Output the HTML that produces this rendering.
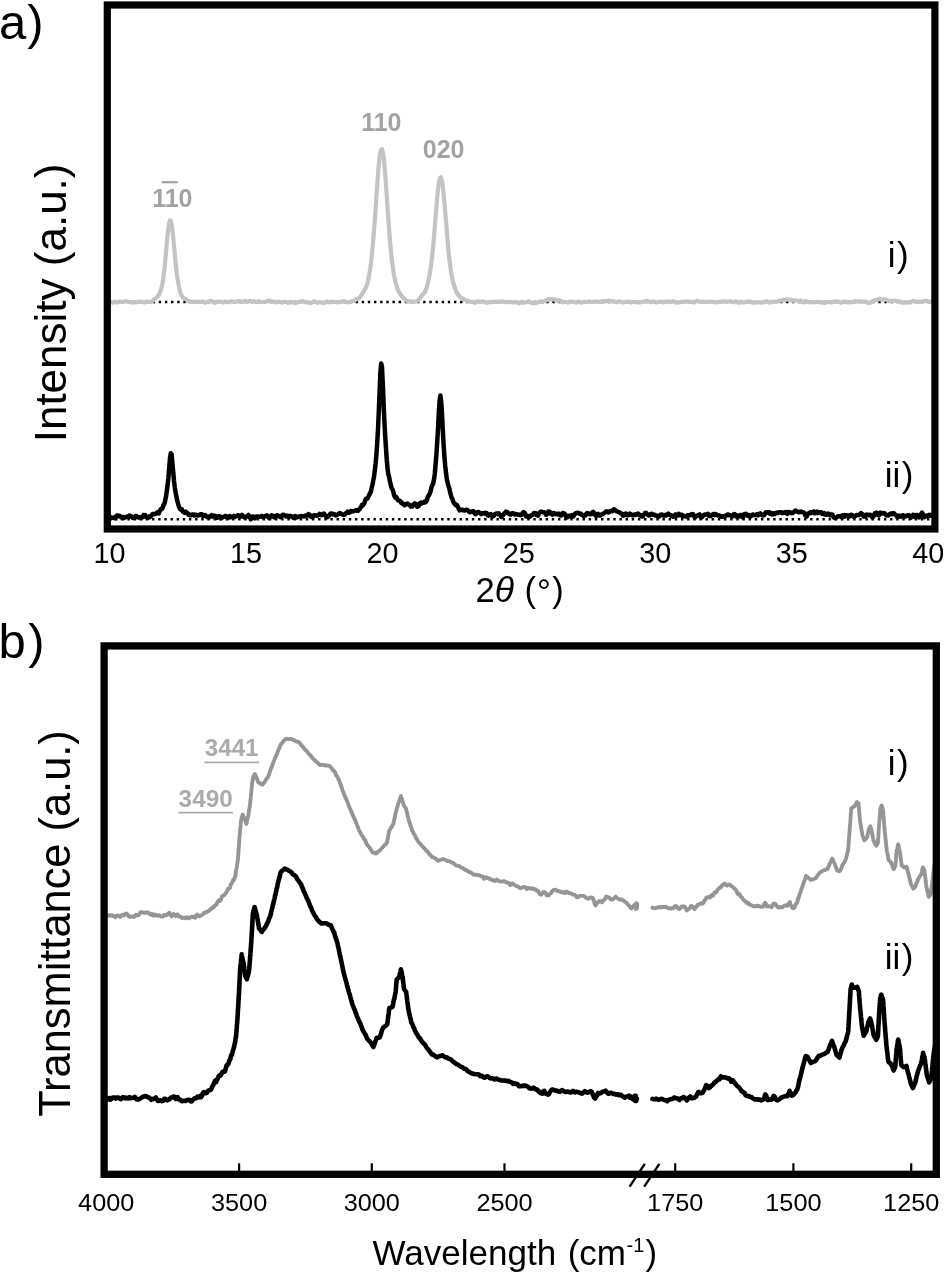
<!DOCTYPE html>
<html lang="en">
<head>
<meta charset="utf-8">
<title>XRD and FTIR figure</title>
<style>
html,body{margin:0;padding:0;background:#fff;}
body{width:945px;height:1274px;overflow:hidden;font-family:'Liberation Sans', sans-serif;}
svg{display:block;}
svg{fill:#000;}
</style>
</head>
<body>
<svg width="945" height="1274" viewBox="0 0 945 1274" font-family="'Liberation Sans', sans-serif">
<rect x="0" y="0" width="945" height="1274" fill="#ffffff"/>
<defs>
<clipPath id="clipA"><rect x="107" y="5" width="828" height="524"/></clipPath>
<clipPath id="clipB"><rect x="104" y="646" width="832" height="528"/></clipPath>
</defs>
<g id="panel-a">
<g clip-path="url(#clipA)">
<line x1="109.55" y1="302" x2="932" y2="302" stroke="#000" stroke-width="2.4" stroke-dasharray="2.4 3.75"/>
<line x1="109.0" y1="519.3" x2="932" y2="519.3" stroke="#000" stroke-width="2.4" stroke-dasharray="2.4 3.75"/>
<polyline fill="none" stroke="#c3c3c3" stroke-width="4.2" stroke-linejoin="round" stroke-linecap="round" points="106.0,302.8 107.0,302.7 108.0,302.2 109.0,302.1 110.0,302.0 111.0,302.1 112.0,302.4 113.0,302.6 114.0,302.2 115.0,301.8 116.0,302.0 117.0,302.5 118.0,302.4 119.0,301.7 120.0,301.4 121.0,301.8 122.0,301.9 123.0,302.0 124.0,301.6 125.0,301.5 126.0,301.3 127.0,301.4 128.0,301.6 129.0,302.0 130.0,302.0 131.0,302.3 132.0,302.2 133.0,302.3 134.0,302.2 135.0,302.3 136.0,302.1 137.0,302.1 138.0,301.9 139.0,301.6 140.0,302.0 141.0,301.7 142.0,302.1 143.0,302.0 144.0,302.4 145.0,302.3 146.0,301.6 147.0,301.8 148.0,301.7 149.0,301.8 150.0,301.8 151.0,301.9 152.0,301.5 153.0,300.5 154.0,299.5 155.0,298.8 156.0,298.1 157.0,297.4 158.0,295.9 159.0,294.6 160.0,292.5 161.0,289.8 162.0,285.9 163.0,280.0 164.0,272.9 165.0,263.3 166.0,252.4 167.0,241.3 168.0,231.3 169.0,223.8 170.0,220.2 171.0,221.1 172.0,226.8 173.0,235.2 174.0,245.7 175.0,256.8 176.0,266.7 177.0,275.1 178.0,281.7 179.0,287.1 180.0,291.2 181.0,294.4 182.0,295.9 183.0,297.7 184.0,298.1 185.0,298.7 186.0,299.3 187.0,300.3 188.0,301.3 189.0,301.2 190.0,301.5 191.0,301.6 192.0,302.1 193.0,302.0 194.0,301.7 195.0,301.9 196.0,301.8 197.0,302.1 198.0,301.7 199.0,302.0 200.0,301.8 201.0,301.9 202.0,301.4 203.0,301.7 204.0,302.2 205.0,302.6 206.0,302.4 207.0,301.9 208.0,301.8 209.0,301.6 210.0,301.0 211.0,301.0 212.0,301.0 213.0,302.0 214.0,302.5 215.0,302.8 216.0,302.4 217.0,301.7 218.0,301.8 219.0,301.7 220.0,301.7 221.0,301.8 222.0,302.2 223.0,302.3 224.0,302.3 225.0,301.4 226.0,301.7 227.0,301.8 228.0,302.3 229.0,302.0 230.0,301.6 231.0,301.4 232.0,301.4 233.0,301.8 234.0,301.7 235.0,301.8 236.0,301.8 237.0,301.6 238.0,301.1 239.0,301.0 240.0,301.4 241.0,301.6 242.0,302.0 243.0,301.6 244.0,301.4 245.0,300.9 246.0,301.5 247.0,301.7 248.0,301.6 249.0,301.2 250.0,301.1 251.0,301.1 252.0,301.0 253.0,301.0 254.0,301.3 255.0,301.8 256.0,302.0 257.0,301.7 258.0,301.4 259.0,301.1 260.0,301.6 261.0,302.0 262.0,302.2 263.0,302.0 264.0,301.8 265.0,302.0 266.0,301.8 267.0,301.4 268.0,300.8 269.0,300.6 270.0,301.1 271.0,301.3 272.0,301.8 273.0,301.6 274.0,301.9 275.0,302.0 276.0,302.4 277.0,302.1 278.0,301.9 279.0,301.7 280.0,302.2 281.0,302.2 282.0,302.6 283.0,302.0 284.0,302.0 285.0,301.6 286.0,302.0 287.0,302.4 288.0,302.8 289.0,302.7 290.0,302.0 291.0,301.9 292.0,302.1 293.0,302.5 294.0,302.6 295.0,302.9 296.0,302.9 297.0,302.5 298.0,302.2 299.0,301.7 300.0,301.8 301.0,301.6 302.0,301.6 303.0,301.1 304.0,301.6 305.0,302.1 306.0,302.2 307.0,302.1 308.0,302.3 309.0,302.9 310.0,302.9 311.0,302.9 312.0,302.6 313.0,301.9 314.0,301.3 315.0,301.3 316.0,302.1 317.0,302.5 318.0,302.6 319.0,302.0 320.0,302.0 321.0,302.4 322.0,302.4 323.0,302.9 324.0,302.6 325.0,302.6 326.0,302.0 327.0,301.4 328.0,302.1 329.0,302.1 330.0,302.3 331.0,301.8 332.0,301.7 333.0,302.2 334.0,302.0 335.0,302.0 336.0,301.9 337.0,302.3 338.0,302.5 339.0,302.4 340.0,301.9 341.0,301.8 342.0,301.3 343.0,301.3 344.0,301.3 345.0,301.6 346.0,302.1 347.0,302.3 348.0,302.4 349.0,302.0 350.0,301.9 351.0,301.5 352.0,301.4 353.0,301.0 354.0,300.8 355.0,300.2 356.0,299.2 357.0,298.8 358.0,298.6 359.0,298.4 360.0,297.4 361.0,295.9 362.0,294.4 363.0,292.7 364.0,290.9 365.0,289.2 366.0,287.2 367.0,284.7 368.0,280.7 369.0,276.0 370.0,270.0 371.0,262.7 372.0,253.5 373.0,242.8 374.0,230.9 375.0,217.8 376.0,203.1 377.0,188.1 378.0,174.2 379.0,162.9 380.0,154.5 381.0,150.0 382.0,149.3 383.0,153.3 384.0,160.9 385.0,171.9 386.0,185.1 387.0,199.5 388.0,214.3 389.0,228.2 390.0,241.1 391.0,251.7 392.0,261.1 393.0,268.3 394.0,275.1 395.0,279.7 396.0,283.9 397.0,286.9 398.0,290.3 399.0,292.0 400.0,293.9 401.0,294.9 402.0,296.6 403.0,297.5 404.0,298.2 405.0,299.1 406.0,300.3 407.0,300.8 408.0,301.5 409.0,301.4 410.0,301.8 411.0,301.4 412.0,301.5 413.0,301.6 414.0,301.8 415.0,301.8 416.0,301.5 417.0,301.1 418.0,300.3 419.0,299.3 420.0,298.3 421.0,296.7 422.0,295.2 423.0,294.3 424.0,293.2 425.0,292.0 426.0,289.2 427.0,286.4 428.0,282.4 429.0,278.0 430.0,272.2 431.0,265.5 432.0,257.7 433.0,248.2 434.0,237.0 435.0,224.4 436.0,212.0 437.0,199.7 438.0,189.6 439.0,181.6 440.0,178.0 441.0,177.2 442.0,181.2 443.0,187.8 444.0,198.1 445.0,209.0 446.0,221.1 447.0,233.4 448.0,245.2 449.0,255.9 450.0,264.3 451.0,271.7 452.0,277.4 453.0,282.0 454.0,285.0 455.0,288.1 456.0,290.8 457.0,293.1 458.0,294.4 459.0,295.7 460.0,296.8 461.0,298.0 462.0,298.2 463.0,298.5 464.0,299.6 465.0,299.8 466.0,300.4 467.0,300.4 468.0,301.2 469.0,301.4 470.0,301.8 471.0,302.0 472.0,301.7 473.0,301.9 474.0,302.5 475.0,302.7 476.0,302.3 477.0,301.5 478.0,301.3 479.0,301.5 480.0,301.7 481.0,302.0 482.0,301.5 483.0,301.3 484.0,301.6 485.0,302.3 486.0,302.6 487.0,302.8 488.0,302.2 489.0,302.2 490.0,301.9 491.0,302.4 492.0,301.9 493.0,301.8 494.0,301.7 495.0,301.9 496.0,302.0 497.0,301.7 498.0,301.5 499.0,301.6 500.0,301.6 501.0,301.8 502.0,301.5 503.0,301.4 504.0,301.6 505.0,302.0 506.0,302.1 507.0,302.3 508.0,302.0 509.0,302.1 510.0,301.7 511.0,302.0 512.0,302.2 513.0,302.6 514.0,302.2 515.0,302.0 516.0,301.8 517.0,302.6 518.0,302.5 519.0,303.3 520.0,302.5 521.0,302.6 522.0,301.7 523.0,302.4 524.0,302.6 525.0,302.5 526.0,302.2 527.0,301.8 528.0,301.6 529.0,301.4 530.0,302.0 531.0,302.5 532.0,303.0 533.0,302.7 534.0,303.0 535.0,303.2 536.0,303.1 537.0,302.7 538.0,302.0 539.0,301.9 540.0,301.2 541.0,301.7 542.0,301.8 543.0,301.9 544.0,301.3 545.0,300.9 546.0,300.5 547.0,299.9 548.0,299.1 549.0,299.2 550.0,299.3 551.0,299.5 552.0,299.3 553.0,299.1 554.0,299.4 555.0,299.5 556.0,300.5 557.0,300.4 558.0,300.4 559.0,300.1 560.0,300.3 561.0,301.3 562.0,301.6 563.0,302.4 564.0,302.0 565.0,301.9 566.0,302.0 567.0,302.3 568.0,302.6 569.0,301.7 570.0,301.5 571.0,301.4 572.0,301.9 573.0,301.8 574.0,301.9 575.0,302.3 576.0,302.6 577.0,302.1 578.0,301.7 579.0,301.6 580.0,302.4 581.0,302.4 582.0,302.3 583.0,302.2 584.0,301.9 585.0,302.1 586.0,302.0 587.0,302.0 588.0,301.8 589.0,301.4 590.0,301.7 591.0,301.9 592.0,302.0 593.0,301.9 594.0,301.5 595.0,301.5 596.0,301.5 597.0,301.7 598.0,301.5 599.0,301.8 600.0,301.8 601.0,302.0 602.0,301.3 603.0,301.3 604.0,300.8 605.0,301.4 606.0,301.2 607.0,301.1 608.0,300.8 609.0,300.5 610.0,301.3 611.0,301.3 612.0,301.6 613.0,301.2 614.0,301.7 615.0,301.6 616.0,302.3 617.0,301.8 618.0,301.9 619.0,301.2 620.0,301.6 621.0,302.0 622.0,302.4 623.0,302.5 624.0,302.1 625.0,302.0 626.0,301.8 627.0,301.8 628.0,301.4 629.0,302.0 630.0,302.2 631.0,302.4 632.0,301.8 633.0,301.8 634.0,302.0 635.0,302.2 636.0,302.0 637.0,302.1 638.0,302.3 639.0,302.6 640.0,302.5 641.0,302.0 642.0,302.0 643.0,301.6 644.0,301.5 645.0,301.2 646.0,300.9 647.0,301.4 648.0,301.0 649.0,301.6 650.0,301.9 651.0,302.2 652.0,301.7 653.0,301.6 654.0,301.5 655.0,302.2 656.0,302.3 657.0,302.3 658.0,302.1 659.0,301.8 660.0,301.6 661.0,301.8 662.0,302.1 663.0,302.4 664.0,301.5 665.0,301.5 666.0,301.6 667.0,302.1 668.0,301.4 669.0,301.5 670.0,301.7 671.0,302.2 672.0,301.8 673.0,301.2 674.0,301.5 675.0,302.1 676.0,302.6 677.0,302.2 678.0,302.3 679.0,302.5 680.0,302.4 681.0,302.0 682.0,301.7 683.0,301.9 684.0,301.6 685.0,301.6 686.0,301.6 687.0,301.4 688.0,301.7 689.0,301.7 690.0,301.8 691.0,301.8 692.0,301.9 693.0,302.3 694.0,302.4 695.0,301.8 696.0,301.5 697.0,300.8 698.0,301.2 699.0,301.3 700.0,301.8 701.0,301.9 702.0,301.9 703.0,301.6 704.0,301.9 705.0,301.9 706.0,302.0 707.0,301.8 708.0,301.9 709.0,301.9 710.0,301.7 711.0,301.7 712.0,301.8 713.0,302.1 714.0,301.9 715.0,302.0 716.0,302.2 717.0,302.4 718.0,302.2 719.0,301.8 720.0,301.9 721.0,301.9 722.0,301.8 723.0,301.4 724.0,301.3 725.0,301.5 726.0,301.5 727.0,301.9 728.0,301.6 729.0,301.5 730.0,301.3 731.0,301.3 732.0,301.8 733.0,301.8 734.0,302.3 735.0,301.6 736.0,301.4 737.0,301.5 738.0,302.7 739.0,302.7 740.0,302.5 741.0,301.7 742.0,302.4 743.0,302.1 744.0,302.4 745.0,302.0 746.0,302.1 747.0,301.5 748.0,301.9 749.0,301.5 750.0,301.9 751.0,301.5 752.0,302.3 753.0,302.7 754.0,302.6 755.0,302.5 756.0,302.1 757.0,302.5 758.0,302.4 759.0,302.2 760.0,302.5 761.0,302.6 762.0,302.4 763.0,302.3 764.0,301.8 765.0,301.8 766.0,301.3 767.0,301.3 768.0,302.0 769.0,302.5 770.0,302.7 771.0,301.9 772.0,301.7 773.0,301.7 774.0,301.8 775.0,301.9 776.0,301.6 777.0,301.6 778.0,301.1 779.0,301.0 780.0,300.5 781.0,300.6 782.0,300.3 783.0,300.3 784.0,299.9 785.0,299.7 786.0,299.5 787.0,299.6 788.0,299.6 789.0,299.5 790.0,300.0 791.0,299.7 792.0,300.6 793.0,300.2 794.0,300.9 795.0,300.4 796.0,300.5 797.0,300.7 798.0,301.1 799.0,301.1 800.0,300.7 801.0,300.7 802.0,301.6 803.0,302.4 804.0,302.4 805.0,301.1 806.0,301.2 807.0,301.4 808.0,302.1 809.0,301.9 810.0,302.1 811.0,302.0 812.0,302.4 813.0,302.2 814.0,302.1 815.0,302.1 816.0,302.1 817.0,302.0 818.0,301.7 819.0,301.9 820.0,302.5 821.0,302.2 822.0,302.3 823.0,302.3 824.0,302.9 825.0,302.8 826.0,302.3 827.0,302.0 828.0,301.8 829.0,302.0 830.0,302.2 831.0,302.4 832.0,302.2 833.0,301.8 834.0,301.7 835.0,301.8 836.0,301.7 837.0,301.3 838.0,301.4 839.0,302.1 840.0,302.2 841.0,302.8 842.0,302.2 843.0,302.2 844.0,301.4 845.0,301.9 846.0,301.6 847.0,302.4 848.0,302.3 849.0,302.4 850.0,301.9 851.0,301.8 852.0,302.3 853.0,302.1 854.0,301.9 855.0,301.2 856.0,301.3 857.0,301.5 858.0,301.7 859.0,301.3 860.0,301.4 861.0,301.4 862.0,302.2 863.0,301.5 864.0,301.5 865.0,301.6 866.0,302.2 867.0,302.5 868.0,302.7 869.0,303.1 870.0,302.8 871.0,302.3 872.0,301.4 873.0,301.1 874.0,300.6 875.0,299.9 876.0,299.7 877.0,299.8 878.0,299.8 879.0,298.7 880.0,298.5 881.0,299.1 882.0,299.7 883.0,299.6 884.0,299.1 885.0,299.5 886.0,299.6 887.0,300.1 888.0,300.5 889.0,301.1 890.0,301.1 891.0,300.8 892.0,300.9 893.0,300.8 894.0,300.9 895.0,300.7 896.0,301.1 897.0,301.3 898.0,301.4 899.0,301.4 900.0,301.5 901.0,302.2 902.0,302.5 903.0,302.7 904.0,302.5 905.0,302.4 906.0,302.6 907.0,302.1 908.0,302.4 909.0,302.3 910.0,302.7 911.0,301.9 912.0,301.3 913.0,301.1 914.0,301.4 915.0,301.4 916.0,301.5 917.0,301.8 918.0,302.1 919.0,301.7 920.0,301.8 921.0,301.6 922.0,301.6 923.0,301.3 924.0,301.1 925.0,301.1 926.0,300.6 927.0,301.1 928.0,301.3 929.0,301.9 930.0,301.8 931.0,301.6 932.0,301.5 933.0,302.1 934.0,302.6 935.0,302.7 936.0,302.2"/>
<polyline fill="none" stroke="#000" stroke-width="4.5" stroke-linejoin="round" stroke-linecap="round" points="106.0,517.3 106.8,518.1 107.6,517.6 108.4,516.6 109.2,516.1 110.0,516.7 110.8,517.6 111.6,518.2 112.4,517.7 113.2,517.7 114.0,517.5 114.8,518.2 115.6,516.9 116.4,515.9 117.2,515.4 118.0,516.3 118.8,516.1 119.6,515.8 120.4,516.6 121.2,517.2 122.0,518.0 122.8,517.1 123.6,517.0 124.4,517.8 125.2,517.2 126.0,517.0 126.8,516.8 127.6,516.8 128.4,516.9 129.2,515.5 130.0,516.2 130.8,516.1 131.6,516.7 132.4,517.7 133.2,518.1 134.0,517.7 134.8,516.7 135.6,515.9 136.4,516.0 137.2,517.3 138.0,517.2 138.8,517.6 139.6,517.0 140.4,517.6 141.2,517.9 142.0,516.8 142.8,517.1 143.6,515.1 144.4,515.4 145.2,515.1 146.0,516.6 146.8,517.6 147.6,517.7 148.4,517.6 149.2,516.4 150.0,517.1 150.8,516.4 151.6,515.3 152.4,514.1 153.2,513.9 154.0,514.2 154.8,514.1 155.6,514.0 156.4,513.3 157.2,512.3 158.0,512.3 158.8,513.4 159.6,511.5 160.4,509.8 161.2,508.7 162.0,508.9 162.8,507.4 163.6,504.7 164.4,503.8 165.2,500.5 166.0,496.7 166.8,491.0 167.6,485.4 168.4,477.8 169.2,467.9 170.0,457.9 170.8,453.2 171.6,454.4 172.4,463.1 173.2,471.8 174.0,481.0 174.8,487.5 175.6,492.4 176.4,496.5 177.2,500.7 178.0,503.5 178.8,506.2 179.6,508.0 180.4,509.3 181.2,509.8 182.0,509.4 182.8,511.6 183.6,512.1 184.4,512.9 185.2,512.0 186.0,511.8 186.8,513.1 187.6,513.2 188.4,514.6 189.2,514.3 190.0,515.3 190.8,515.3 191.6,515.0 192.4,514.5 193.2,514.4 194.0,515.4 194.8,514.6 195.6,515.3 196.4,514.9 197.2,515.6 198.0,515.4 198.8,515.0 199.6,515.3 200.4,514.2 201.2,514.4 202.0,514.3 202.8,515.9 203.6,516.0 204.4,515.7 205.2,515.0 206.0,515.8 206.8,516.8 207.6,517.2 208.4,516.7 209.2,517.2 210.0,516.0 210.8,516.1 211.6,515.2 212.4,516.6 213.2,516.6 214.0,515.5 214.8,515.9 215.6,516.2 216.4,517.9 217.2,517.7 218.0,516.5 218.8,516.3 219.6,516.2 220.4,518.2 221.2,518.1 222.0,517.7 222.8,516.9 223.6,516.9 224.4,516.6 225.2,516.0 226.0,515.9 226.8,516.8 227.6,518.0 228.4,516.9 229.2,517.4 230.0,516.1 230.8,517.2 231.6,516.8 232.4,516.6 233.2,517.0 234.0,515.8 234.8,516.9 235.6,516.2 236.4,516.2 237.2,516.2 238.0,515.2 238.8,515.5 239.6,516.2 240.4,516.6 241.2,516.0 242.0,514.9 242.8,515.8 243.6,516.7 244.4,517.6 245.2,517.4 246.0,517.1 246.8,516.3 247.6,515.8 248.4,515.0 249.2,515.8 250.0,517.6 250.8,519.3 251.6,517.7 252.4,516.5 253.2,516.6 254.0,517.6 254.8,518.3 255.6,516.7 256.4,516.6 257.2,516.5 258.0,517.0 258.8,516.6 259.6,516.8 260.4,516.5 261.2,516.2 262.0,516.0 262.8,517.0 263.6,516.7 264.4,516.5 265.2,516.1 266.0,516.1 266.8,515.3 267.6,516.5 268.4,517.3 269.2,518.1 270.0,517.0 270.8,516.2 271.6,515.3 272.4,515.6 273.2,516.7 274.0,517.3 274.8,517.4 275.6,515.7 276.4,515.6 277.2,515.2 278.0,515.6 278.8,516.2 279.6,516.4 280.4,517.1 281.2,516.3 282.0,515.4 282.8,514.8 283.6,514.7 284.4,515.6 285.2,515.8 286.0,516.4 286.8,515.6 287.6,516.2 288.4,516.1 289.2,516.6 290.0,515.8 290.8,516.1 291.6,516.4 292.4,517.3 293.2,517.7 294.0,516.9 294.8,516.1 295.6,516.2 296.4,517.4 297.2,517.3 298.0,516.8 298.8,516.8 299.6,516.4 300.4,516.3 301.2,515.9 302.0,516.3 302.8,516.4 303.6,516.2 304.4,516.4 305.2,515.5 306.0,515.9 306.8,515.4 307.6,515.6 308.4,514.1 309.2,514.5 310.0,515.0 310.8,516.4 311.6,517.1 312.4,516.8 313.2,516.5 314.0,515.3 314.8,515.2 315.6,515.6 316.4,515.5 317.2,515.8 318.0,515.1 318.8,514.8 319.6,513.8 320.4,514.3 321.2,515.2 322.0,515.1 322.8,514.1 323.6,513.6 324.4,513.9 325.2,515.7 326.0,516.1 326.8,517.4 327.6,516.5 328.4,516.5 329.2,515.3 330.0,514.2 330.8,513.4 331.6,513.5 332.4,514.3 333.2,514.0 334.0,513.9 334.8,514.7 335.6,515.4 336.4,515.2 337.2,514.6 338.0,514.3 338.8,513.7 339.6,513.1 340.4,513.2 341.2,514.0 342.0,514.3 342.8,514.4 343.6,514.9 344.4,514.3 345.2,514.4 346.0,513.1 346.8,512.8 347.6,511.7 348.4,512.8 349.2,512.5 350.0,512.5 350.8,511.1 351.6,511.2 352.4,511.3 353.2,511.4 354.0,510.9 354.8,510.8 355.6,510.2 356.4,510.3 357.2,510.7 358.0,510.9 358.8,509.5 359.6,509.3 360.4,507.6 361.2,507.1 362.0,504.7 362.8,505.3 363.6,504.5 364.4,502.9 365.2,500.3 366.0,498.8 366.8,498.7 367.6,498.5 368.4,496.5 369.2,494.9 370.0,493.4 370.8,491.9 371.6,488.2 372.4,485.0 373.2,480.9 374.0,476.7 374.8,470.4 375.6,463.7 376.4,454.6 377.2,443.1 378.0,429.6 378.8,411.6 379.6,391.8 380.4,372.4 381.2,363.5 382.0,367.3 382.8,384.0 383.6,403.6 384.4,421.9 385.2,435.9 386.0,448.7 386.8,460.2 387.6,468.9 388.4,474.7 389.2,477.5 390.0,481.8 390.8,484.9 391.6,488.2 392.4,489.2 393.2,491.3 394.0,495.1 394.8,496.6 395.6,497.9 396.4,497.1 397.2,499.0 398.0,500.3 398.8,500.5 399.6,500.7 400.4,501.1 401.2,503.0 402.0,502.7 402.8,504.1 403.6,504.3 404.4,505.2 405.2,504.5 406.0,503.9 406.8,504.2 407.6,503.5 408.4,504.3 409.2,504.7 410.0,505.5 410.8,506.5 411.6,505.6 412.4,506.4 413.2,504.6 414.0,504.6 414.8,503.4 415.6,503.8 416.4,505.0 417.2,506.7 418.0,506.3 418.8,505.8 419.6,503.3 420.4,503.5 421.2,502.6 422.0,503.4 422.8,502.5 423.6,502.5 424.4,501.7 425.2,502.4 426.0,501.7 426.8,500.7 427.6,497.7 428.4,495.8 429.2,494.9 430.0,492.9 430.8,490.6 431.6,486.6 432.4,485.0 433.2,483.3 434.0,479.6 434.8,473.7 435.6,464.0 436.4,454.8 437.2,442.5 438.0,429.1 438.8,412.9 439.6,400.9 440.4,395.5 441.2,401.5 442.0,413.9 442.8,430.2 443.6,444.6 444.4,456.3 445.2,465.9 446.0,472.7 446.8,479.0 447.6,482.5 448.4,485.7 449.2,487.9 450.0,491.9 450.8,494.7 451.6,497.8 452.4,499.0 453.2,501.3 454.0,503.1 454.8,503.8 455.6,505.1 456.4,504.6 457.2,505.3 458.0,507.1 458.8,509.0 459.6,510.4 460.4,509.8 461.2,510.0 462.0,509.8 462.8,509.8 463.6,510.4 464.4,510.6 465.2,510.3 466.0,509.9 466.8,509.7 467.6,510.2 468.4,510.8 469.2,511.9 470.0,512.4 470.8,511.9 471.6,511.7 472.4,511.3 473.2,511.1 474.0,511.9 474.8,513.3 475.6,514.1 476.4,513.4 477.2,512.3 478.0,511.9 478.8,511.9 479.6,513.1 480.4,513.3 481.2,514.1 482.0,513.4 482.8,513.2 483.6,513.2 484.4,513.7 485.2,512.8 486.0,512.9 486.8,513.1 487.6,515.3 488.4,515.7 489.2,514.9 490.0,514.7 490.8,514.2 491.6,515.3 492.4,516.6 493.2,515.8 494.0,515.7 494.8,514.1 495.6,513.8 496.4,513.6 497.2,513.5 498.0,514.2 498.8,513.4 499.6,514.3 500.4,514.8 501.2,516.8 502.0,516.0 502.8,515.4 503.6,514.4 504.4,513.2 505.2,513.0 506.0,511.6 506.8,512.7 507.6,512.3 508.4,513.7 509.2,513.6 510.0,514.6 510.8,514.6 511.6,513.8 512.4,513.1 513.2,513.3 514.0,513.9 514.8,514.6 515.6,514.1 516.4,514.2 517.2,514.5 518.0,514.5 518.8,514.7 519.6,514.8 520.4,515.2 521.2,514.9 522.0,514.5 522.8,512.8 523.6,512.1 524.4,512.6 525.2,513.8 526.0,516.2 526.8,516.2 527.6,516.9 528.4,516.2 529.2,517.1 530.0,516.4 530.8,515.8 531.6,515.0 532.4,515.1 533.2,514.6 534.0,513.1 534.8,513.7 535.6,513.2 536.4,515.0 537.2,514.6 538.0,515.7 538.8,513.6 539.6,512.6 540.4,511.9 541.2,511.7 542.0,511.8 542.8,512.3 543.6,512.3 544.4,512.5 545.2,513.0 546.0,514.8 546.8,514.6 547.6,512.8 548.4,511.4 549.2,511.6 550.0,512.1 550.8,513.6 551.6,513.5 552.4,514.7 553.2,513.1 554.0,514.0 554.8,513.4 555.6,514.2 556.4,513.9 557.2,514.0 558.0,514.4 558.8,513.6 559.6,514.2 560.4,515.5 561.2,515.6 562.0,514.7 562.8,513.1 563.6,513.2 564.4,513.6 565.2,514.4 566.0,516.5 566.8,517.5 567.6,517.2 568.4,515.7 569.2,515.9 570.0,516.2 570.8,515.6 571.6,515.2 572.4,515.1 573.2,516.6 574.0,515.2 574.8,514.3 575.6,513.2 576.4,513.1 577.2,513.0 578.0,512.7 578.8,513.5 579.6,513.5 580.4,513.9 581.2,513.7 582.0,514.9 582.8,515.3 583.6,515.9 584.4,515.6 585.2,515.5 586.0,514.2 586.8,513.2 587.6,513.1 588.4,513.9 589.2,513.6 590.0,514.3 590.8,514.3 591.6,514.1 592.4,512.3 593.2,511.9 594.0,512.6 594.8,514.6 595.6,515.6 596.4,515.9 597.2,514.5 598.0,513.8 598.8,515.1 599.6,515.6 600.4,515.6 601.2,514.7 602.0,514.4 602.8,514.1 603.6,513.3 604.4,512.8 605.2,512.3 606.0,511.4 606.8,511.3 607.6,511.8 608.4,512.4 609.2,512.0 610.0,511.0 610.8,511.1 611.6,511.1 612.4,511.2 613.2,509.7 614.0,509.3 614.8,509.7 615.6,510.4 616.4,511.2 617.2,511.4 618.0,511.8 618.8,512.1 619.6,512.5 620.4,512.9 621.2,513.6 622.0,513.8 622.8,515.6 623.6,515.6 624.4,514.8 625.2,513.8 626.0,513.6 626.8,514.8 627.6,515.3 628.4,515.0 629.2,514.8 630.0,513.6 630.8,514.5 631.6,514.5 632.4,515.3 633.2,515.2 634.0,514.6 634.8,514.9 635.6,515.0 636.4,514.2 637.2,513.9 638.0,513.6 638.8,514.8 639.6,515.4 640.4,515.1 641.2,516.1 642.0,515.8 642.8,516.4 643.6,514.9 644.4,514.3 645.2,512.9 646.0,512.8 646.8,513.6 647.6,514.3 648.4,515.6 649.2,515.6 650.0,515.2 650.8,514.1 651.6,513.7 652.4,514.2 653.2,514.9 654.0,514.8 654.8,514.8 655.6,515.6 656.4,515.4 657.2,516.0 658.0,516.1 658.8,516.6 659.6,516.0 660.4,514.9 661.2,514.6 662.0,514.5 662.8,515.4 663.6,515.4 664.4,515.5 665.2,514.9 666.0,515.6 666.8,514.7 667.6,514.5 668.4,513.6 669.2,514.6 670.0,515.2 670.8,515.0 671.6,515.9 672.4,516.0 673.2,516.7 674.0,515.6 674.8,515.5 675.6,514.5 676.4,515.9 677.2,514.8 678.0,515.4 678.8,513.8 679.6,515.1 680.4,514.6 681.2,515.4 682.0,514.9 682.8,516.4 683.6,515.9 684.4,516.0 685.2,516.2 686.0,516.6 686.8,516.9 687.6,515.3 688.4,515.6 689.2,515.3 690.0,515.0 690.8,515.2 691.6,514.2 692.4,514.8 693.2,514.4 694.0,516.3 694.8,517.5 695.6,516.8 696.4,516.3 697.2,515.6 698.0,515.5 698.8,514.9 699.6,514.4 700.4,515.9 701.2,517.5 702.0,517.0 702.8,516.1 703.6,515.1 704.4,514.6 705.2,514.8 706.0,514.4 706.8,514.3 707.6,513.7 708.4,514.2 709.2,516.0 710.0,515.6 710.8,516.0 711.6,515.0 712.4,514.8 713.2,514.1 714.0,514.1 714.8,515.0 715.6,514.1 716.4,514.5 717.2,514.9 718.0,515.5 718.8,515.6 719.6,515.5 720.4,515.9 721.2,516.7 722.0,516.8 722.8,516.3 723.6,516.7 724.4,516.0 725.2,516.4 726.0,515.6 726.8,515.0 727.6,514.6 728.4,514.6 729.2,515.3 730.0,515.1 730.8,515.7 731.6,515.7 732.4,516.3 733.2,515.2 734.0,514.1 734.8,514.3 735.6,514.7 736.4,516.6 737.2,516.1 738.0,515.5 738.8,516.3 739.6,515.5 740.4,514.9 741.2,515.0 742.0,516.7 742.8,517.4 743.6,515.7 744.4,514.1 745.2,514.5 746.0,513.8 746.8,515.3 747.6,514.8 748.4,515.8 749.2,515.2 750.0,516.5 750.8,516.4 751.6,515.3 752.4,514.6 753.2,514.4 754.0,515.1 754.8,515.3 755.6,514.9 756.4,514.6 757.2,514.1 758.0,515.3 758.8,514.7 759.6,514.5 760.4,513.3 761.2,514.3 762.0,514.6 762.8,515.5 763.6,515.3 764.4,514.8 765.2,513.2 766.0,512.2 766.8,512.6 767.6,512.2 768.4,513.0 769.2,512.2 770.0,513.7 770.8,513.5 771.6,514.3 772.4,513.2 773.2,514.1 774.0,513.5 774.8,514.0 775.6,513.0 776.4,512.9 777.2,512.5 778.0,512.9 778.8,512.5 779.6,512.2 780.4,512.3 781.2,512.3 782.0,513.0 782.8,512.5 783.6,512.9 784.4,512.6 785.2,512.1 786.0,513.1 786.8,512.3 787.6,513.8 788.4,512.0 789.2,512.4 790.0,512.2 790.8,512.7 791.6,513.3 792.4,513.1 793.2,512.6 794.0,511.8 794.8,510.9 795.6,510.6 796.4,511.2 797.2,511.6 798.0,511.9 798.8,512.4 799.6,511.8 800.4,512.0 801.2,511.5 802.0,511.9 802.8,512.3 803.6,512.4 804.4,512.9 805.2,515.3 806.0,515.8 806.8,516.4 807.6,513.7 808.4,513.8 809.2,512.8 810.0,513.0 810.8,512.2 811.6,513.0 812.4,512.2 813.2,512.3 814.0,511.5 814.8,513.3 815.6,512.8 816.4,512.8 817.2,511.7 818.0,513.1 818.8,512.4 819.6,512.3 820.4,512.2 821.2,512.2 822.0,513.8 822.8,513.3 823.6,514.1 824.4,513.1 825.2,514.1 826.0,514.8 826.8,514.7 827.6,513.7 828.4,513.6 829.2,514.3 830.0,515.3 830.8,514.5 831.6,514.5 832.4,514.6 833.2,516.5 834.0,517.5 834.8,517.9 835.6,518.0 836.4,517.3 837.2,516.8 838.0,516.2 838.8,516.3 839.6,516.2 840.4,516.7 841.2,516.0 842.0,517.6 842.8,515.4 843.6,516.7 844.4,515.1 845.2,516.5 846.0,515.4 846.8,515.9 847.6,515.4 848.4,516.5 849.2,515.6 850.0,516.1 850.8,515.0 851.6,514.8 852.4,515.4 853.2,516.0 854.0,517.0 854.8,516.4 855.6,515.9 856.4,515.1 857.2,514.9 858.0,515.1 858.8,515.2 859.6,514.7 860.4,514.0 861.2,513.1 862.0,514.1 862.8,514.5 863.6,516.5 864.4,516.6 865.2,516.3 866.0,514.8 866.8,514.6 867.6,514.7 868.4,515.3 869.2,514.7 870.0,514.8 870.8,515.0 871.6,516.6 872.4,517.5 873.2,516.9 874.0,515.5 874.8,513.2 875.6,513.3 876.4,512.6 877.2,514.4 878.0,515.1 878.8,515.5 879.6,513.7 880.4,512.5 881.2,512.8 882.0,513.5 882.8,513.3 883.6,512.9 884.4,513.1 885.2,514.2 886.0,515.2 886.8,515.6 887.6,515.2 888.4,515.4 889.2,514.3 890.0,514.0 890.8,513.6 891.6,514.2 892.4,513.3 893.2,512.9 894.0,513.3 894.8,514.2 895.6,515.3 896.4,515.8 897.2,516.9 898.0,515.7 898.8,516.4 899.6,515.8 900.4,516.6 901.2,515.8 902.0,516.3 902.8,515.2 903.6,515.5 904.4,515.9 905.2,516.6 906.0,516.4 906.8,515.4 907.6,515.6 908.4,515.3 909.2,515.5 910.0,516.5 910.8,517.7 911.6,516.6 912.4,516.3 913.2,514.8 914.0,516.6 914.8,516.0 915.6,516.4 916.4,514.9 917.2,515.0 918.0,515.7 918.8,517.4 919.6,517.1 920.4,515.7 921.2,513.7 922.0,512.6 922.8,514.0 923.6,515.2 924.4,517.2 925.2,516.2 926.0,515.7 926.8,516.0 927.6,515.7 928.4,515.7 929.2,514.8 930.0,515.7 930.8,515.1 931.6,515.0 932.4,515.3 933.2,516.2 934.0,515.5 934.8,514.5 935.6,515.7"/>
</g>
<rect x="107.3" y="5" width="827.6" height="524" fill="none" stroke="#000" stroke-width="7.2"/>
<g fill="#a3a3a3" font-weight="bold" font-size="25">
<text x="152.2" y="207.2">110</text>
<text x="361.2" y="131.2">110</text>
<text x="422.8" y="158.3">020</text>
</g>
<line x1="161.6" y1="182.2" x2="177.8" y2="182.2" stroke="#a3a3a3" stroke-width="2.2"/>
<text x="887.8" y="267" font-size="35">i<tspan dx="1.5">)</tspan></text>
<text x="884.8" y="486.6" font-size="35">ii<tspan dx="1.5">)</tspan></text>
<g font-size="30.3" text-anchor="middle">
<text transform="translate(109.5,562.9) scale(0.95,1)">10</text>
<text transform="translate(245.9,562.9) scale(0.95,1)">15</text>
<text transform="translate(382.4,562.9) scale(0.95,1)">20</text>
<text transform="translate(518.8,562.9) scale(0.95,1)">25</text>
<text transform="translate(655.3,562.9) scale(0.95,1)">30</text>
<text transform="translate(791.8,562.9) scale(0.95,1)">35</text>
<text transform="translate(928.2,562.9) scale(0.95,1)">40</text>
</g>
<text x="475.6" y="601.5" font-size="34.5">2<tspan font-style="italic" font-size="35.5">θ</tspan> <tspan dx="0.8">(</tspan><tspan dx="1" dy="2.5">°</tspan><tspan dx="1.6" dy="-2.5">)</tspan></text>
<text transform="translate(65.5,442.3) rotate(-90)" font-size="44">Intensity (a.u.)</text>
<text x="-1" y="39.2" font-size="49">a<tspan dx="1">)</tspan></text>
</g>
<g id="panel-b">
<g clip-path="url(#clipB)">
<polyline fill="none" stroke="#959595" stroke-width="3.85" stroke-linejoin="round" stroke-linecap="round" points="104.0,915.9 105.0,916.3 106.1,917.3 107.2,915.8 108.2,914.9 109.2,915.7 110.2,915.2 111.2,915.2 112.2,916.1 113.2,915.8 114.2,915.9 115.2,917.2 116.2,916.3 117.2,915.4 118.2,915.5 119.2,916.0 120.2,916.9 121.2,915.9 122.2,914.7 123.2,915.1 124.2,915.3 125.2,914.0 126.2,913.4 127.3,914.1 128.4,916.1 129.5,916.9 130.6,916.5 131.7,916.5 132.8,916.6 133.9,917.0 135.0,915.5 136.0,914.7 137.0,915.5 138.1,915.1 139.1,914.7 140.1,912.5 141.1,912.1 142.2,912.5 143.2,912.7 144.2,912.9 145.2,912.4 146.1,913.0 147.1,912.3 148.1,912.5 149.0,913.3 150.0,914.3 151.0,914.9 152.0,913.8 153.0,915.0 153.9,915.7 154.9,914.5 155.9,914.8 156.9,915.4 157.9,915.8 158.9,915.2 159.9,915.6 160.9,916.3 161.9,916.6 163.0,916.6 164.0,914.9 165.0,915.1 166.0,915.5 167.1,914.9 168.2,913.5 169.3,912.7 170.4,914.9 171.5,916.3 172.6,914.4 173.7,913.9 174.8,915.1 175.7,916.1 176.6,915.7 177.5,914.4 178.5,915.7 179.4,916.8 180.3,916.7 181.2,917.0 182.3,918.0 183.4,917.9 184.5,917.6 185.6,918.3 186.7,917.2 187.8,917.3 188.9,918.3 190.0,917.8 191.0,916.9 192.0,917.1 193.1,916.7 194.1,916.5 195.1,917.8 196.1,916.7 197.1,914.6 198.2,915.9 199.2,916.4 200.2,915.6 201.0,915.6 201.9,915.0 202.8,914.3 203.6,913.5 204.4,912.6 205.3,912.5 206.1,912.6 207.0,911.8 207.8,911.1 208.7,911.1 209.5,910.5 210.2,909.4 211.0,909.2 211.8,908.1 212.6,907.3 213.3,907.7 214.1,906.9 214.9,905.4 215.7,904.7 216.4,904.7 217.2,902.7 217.9,901.4 218.6,900.5 219.3,900.1 220.0,900.9 220.7,900.4 221.4,898.2 222.1,896.2 222.8,895.8 223.5,895.5 224.1,895.2 224.8,894.3 225.4,893.7 226.1,892.7 226.7,891.8 227.3,890.4 228.0,888.6 228.6,888.6 229.3,888.6 229.9,888.1 230.4,886.1 230.9,884.0 231.3,883.6 231.8,883.3 232.3,882.1 232.8,881.2 233.3,879.7 233.8,879.0 234.2,879.5 234.7,877.7 235.2,875.6 235.4,875.9 235.5,876.0 235.7,873.8 235.8,871.8 236.0,870.2 236.2,870.4 236.3,869.8 236.5,868.7 236.6,868.1 236.8,867.0 236.9,865.6 237.1,864.7 237.3,863.7 237.4,862.9 237.6,861.9 237.7,860.7 237.9,860.1 238.0,859.0 238.0,857.4 238.1,856.5 238.2,855.6 238.3,854.4 238.3,853.6 238.4,852.8 238.5,851.5 238.5,850.3 238.6,849.2 238.7,848.4 238.8,847.6 238.8,846.5 238.9,846.0 239.0,845.1 239.0,843.9 239.1,842.3 239.2,841.5 239.3,840.8 239.3,839.6 239.4,838.6 239.5,837.3 239.6,836.6 239.7,835.3 239.8,833.8 239.9,833.0 240.0,832.3 240.1,830.9 240.2,829.8 240.2,829.1 240.3,828.0 240.4,827.5 240.5,826.4 240.6,825.1 240.7,824.2 240.8,822.8 240.9,821.6 241.1,820.6 241.4,819.7 241.6,818.7 241.9,817.6 242.1,816.5 242.4,815.8 242.6,814.7 243.1,815.5 243.5,816.9 243.9,817.6 244.4,817.9 244.8,819.4 245.2,820.6 245.6,821.4 246.0,822.6 246.4,823.9 246.7,822.5 246.9,821.3 247.2,820.1 247.4,818.9 247.7,818.1 247.9,817.2 248.2,816.2 248.4,815.4 248.5,814.2 248.7,813.1 248.9,812.1 249.0,810.7 249.2,809.7 249.3,808.9 249.5,808.0 249.7,807.0 249.8,805.8 250.0,804.6 250.1,803.5 250.2,802.7 250.3,801.8 250.4,800.9 250.5,799.9 250.6,798.8 250.7,798.0 250.8,796.9 250.9,795.6 251.0,794.3 251.1,793.4 251.2,792.7 251.3,791.6 251.4,790.8 251.5,789.7 251.6,788.3 251.7,787.5 251.8,786.3 251.9,785.5 252.0,784.6 252.1,783.2 252.3,782.0 252.5,781.3 252.7,780.9 252.8,779.5 253.0,778.1 253.2,777.2 253.4,776.4 254.1,775.1 254.8,774.0 255.3,774.9 255.9,776.2 256.4,777.4 256.8,778.3 257.2,779.3 257.6,780.3 258.0,781.8 258.4,782.6 259.5,782.8 260.5,783.7 261.6,784.3 262.7,784.5 263.3,783.5 263.9,783.0 264.5,782.3 265.1,781.2 265.6,780.4 266.2,779.3 266.8,778.4 267.4,778.1 268.0,777.4 268.4,776.2 268.7,775.2 269.1,774.4 269.4,773.4 269.8,772.2 270.1,771.1 270.4,770.2 270.8,769.2 271.1,768.0 271.5,767.5 271.9,766.7 272.2,765.4 272.6,764.6 272.9,763.5 273.2,762.7 273.6,761.8 273.9,761.1 274.3,760.2 274.7,758.8 275.1,758.1 275.4,757.2 275.8,756.3 276.2,755.6 276.6,754.9 276.9,754.2 277.3,752.9 277.7,751.8 278.1,751.2 278.4,750.0 278.8,748.7 279.2,748.3 279.6,747.8 279.9,746.1 280.3,745.2 280.7,744.7 281.4,743.7 282.1,742.9 282.8,742.0 283.5,741.0 284.2,740.5 284.9,739.5 285.9,739.0 287.0,738.8 288.0,739.1 289.1,739.1 290.1,738.9 291.2,738.9 292.1,739.4 293.1,740.0 294.1,740.1 295.0,740.7 295.9,741.3 296.9,741.6 297.9,741.8 298.8,742.1 299.5,742.9 300.1,743.7 300.8,744.6 301.5,745.5 302.2,746.1 302.8,746.8 303.5,747.7 304.2,748.7 304.9,749.6 305.5,750.2 306.2,750.5 306.9,751.3 307.5,752.3 308.2,753.1 308.9,753.9 309.6,754.6 310.2,755.3 310.9,755.7 311.6,756.8 312.3,758.0 312.9,758.4 313.6,759.2 314.4,760.0 315.2,760.5 316.0,761.4 316.8,762.2 317.5,762.7 318.3,763.5 319.1,764.4 319.9,765.1 321.0,764.9 322.0,765.0 323.1,764.9 324.2,764.9 325.2,765.6 326.3,765.5 327.3,765.5 328.4,765.6 329.4,765.8 330.2,766.6 330.9,767.2 331.7,768.4 332.4,769.6 333.2,770.5 333.9,771.1 334.7,771.7 335.2,772.7 335.7,774.2 336.1,775.4 336.6,775.6 337.1,776.2 337.6,777.1 338.0,778.3 338.5,779.4 339.0,780.0 339.4,781.0 339.7,782.1 340.1,782.9 340.4,783.9 340.8,785.3 341.1,786.1 341.4,786.9 341.8,787.8 342.1,788.7 342.5,790.2 342.8,791.4 343.2,792.0 343.6,792.7 344.0,794.1 344.4,795.1 344.8,795.8 345.2,797.0 345.6,798.0 346.1,798.6 346.5,799.8 346.9,800.6 347.3,801.5 347.7,802.5 348.1,803.6 348.5,804.7 348.9,806.0 349.3,807.1 349.7,807.8 350.1,808.7 350.5,809.7 350.9,810.6 351.4,811.7 351.8,812.7 352.2,813.9 352.6,814.8 353.0,815.5 353.4,816.4 353.8,817.3 354.2,818.5 354.6,819.3 355.0,819.8 355.4,821.2 355.8,822.0 356.2,822.7 356.6,824.0 357.0,824.8 357.3,825.7 357.7,826.8 358.1,827.5 358.5,828.8 358.9,829.9 359.3,830.6 359.7,831.3 360.1,832.2 360.6,833.1 361.2,834.3 361.7,835.3 362.2,835.8 362.7,836.5 363.3,837.6 363.8,838.5 364.3,839.2 364.9,840.0 365.4,840.6 365.9,842.2 366.4,843.5 367.0,844.3 367.5,845.3 368.1,845.9 368.7,846.4 369.3,847.2 369.9,848.2 370.4,848.9 371.0,849.8 371.6,851.0 372.2,851.8 372.8,852.5 374.2,852.6 375.6,853.5 376.5,853.4 377.4,852.2 378.3,851.3 379.2,850.9 379.9,850.2 380.6,849.5 381.3,848.8 382.0,848.0 382.7,847.3 383.4,846.5 384.1,845.6 384.8,844.9 385.6,844.4 386.3,843.5 387.0,842.4 387.2,841.5 387.4,840.4 387.6,839.2 387.8,838.5 388.0,837.8 388.1,836.6 388.3,835.4 388.5,834.6 388.7,833.3 388.9,831.9 389.1,831.1 389.6,830.5 390.2,829.3 390.7,827.9 391.2,827.4 391.8,826.9 392.3,825.7 392.9,824.5 393.4,823.9 393.6,822.8 393.8,821.2 394.1,820.2 394.3,819.7 394.5,818.4 394.8,817.4 395.0,816.5 395.2,814.9 395.4,813.9 395.7,812.9 395.9,812.0 396.1,811.3 396.4,810.4 396.7,808.9 397.0,807.6 397.3,807.1 397.6,806.2 397.9,805.0 398.2,803.8 398.6,802.7 399.0,801.8 399.4,800.9 399.8,799.4 400.2,797.8 400.6,797.0 401.0,796.1 401.3,797.3 401.6,798.2 401.9,799.1 402.2,800.3 402.6,801.6 402.9,802.3 403.2,803.0 403.5,804.2 404.0,805.6 404.5,806.4 405.1,807.0 405.6,808.0 406.1,808.8 406.3,810.0 406.6,811.2 406.8,812.0 407.1,813.0 407.3,814.2 407.6,815.2 407.8,816.0 408.1,817.4 408.3,818.5 408.6,819.5 408.8,820.6 409.1,821.3 409.4,822.1 409.8,822.9 410.1,824.1 410.4,825.5 410.7,826.3 411.0,826.9 411.4,827.9 411.7,829.0 412.0,830.3 412.5,831.1 413.0,831.6 413.4,832.7 413.9,833.9 414.4,834.6 414.9,835.3 415.4,836.5 415.9,838.1 416.3,838.7 416.8,839.2 417.3,840.2 418.0,841.2 418.6,842.1 419.3,843.0 420.0,843.4 420.7,844.2 421.3,845.3 422.0,845.9 422.7,846.7 423.4,847.3 424.0,848.0 424.7,848.7 425.5,849.6 426.2,850.7 427.0,851.1 427.8,851.8 428.5,853.0 429.3,853.9 430.0,854.8 430.8,855.5 431.6,856.4 432.3,857.2 433.1,857.3 434.2,857.8 435.2,858.4 436.3,859.1 437.3,860.1 438.4,860.7 439.5,860.3 440.5,859.9 441.6,859.5 442.6,859.1 443.7,859.2 444.6,859.6 445.6,859.8 446.5,860.5 447.5,861.0 448.4,861.1 449.4,861.2 450.3,861.6 451.3,862.4 452.2,862.8 453.2,863.0 454.1,863.8 455.1,864.6 456.1,865.3 457.0,865.6 458.0,865.9 458.9,866.0 459.9,866.5 460.9,867.4 461.8,867.9 462.8,868.2 463.7,868.8 464.6,869.7 465.4,870.0 466.3,870.2 467.2,870.7 468.1,871.2 469.0,871.8 469.9,872.1 470.8,872.4 471.6,873.1 472.5,873.8 473.4,874.6 474.5,874.9 475.5,874.7 476.6,874.7 477.6,875.0 478.7,875.4 479.7,875.3 480.8,876.1 481.8,876.3 482.9,876.4 483.9,878.8 485.0,878.4 486.0,877.2 487.0,877.9 488.0,878.1 488.9,878.2 489.9,879.3 490.9,879.1 491.9,879.8 492.9,880.6 493.9,880.2 494.9,881.0 495.9,880.4 496.9,879.5 498.0,880.4 499.0,881.3 500.0,881.3 501.0,881.3 502.0,881.5 503.0,881.3 504.0,881.1 505.0,881.4 506.0,882.2 507.0,882.9 508.1,882.6 509.1,883.3 510.1,885.1 511.1,884.7 512.1,883.5 513.1,883.6 514.0,884.6 515.0,885.1 515.9,885.9 516.8,886.2 517.7,886.2 518.6,886.9 519.6,887.9 520.5,888.2 521.6,887.6 522.6,887.2 523.7,887.0 524.8,886.9 525.9,888.5 526.9,889.2 528.0,887.8 529.0,888.0 530.1,888.4 531.1,888.8 532.2,888.1 533.2,888.6 534.3,889.5 535.4,889.1 536.4,890.1 537.1,891.0 537.7,890.8 538.4,891.1 539.0,892.7 539.7,893.9 540.3,894.5 541.0,894.7 541.7,894.0 542.4,893.5 543.0,892.3 543.7,892.4 544.4,892.1 545.1,892.3 545.8,893.4 546.6,895.2 547.3,894.9 548.0,895.4 548.8,895.3 549.5,894.0 550.3,893.7 551.0,893.2 551.8,891.6 552.5,890.9 553.3,890.2 554.4,889.9 555.4,889.7 556.5,890.0 557.5,891.1 558.6,891.2 559.7,891.2 560.7,892.2 561.8,892.4 562.8,891.8 563.9,892.9 565.0,893.1 566.0,891.6 567.1,891.7 568.1,892.8 569.2,893.2 570.3,893.0 571.3,893.6 572.4,894.3 573.5,894.6 574.5,894.8 575.6,895.6 576.6,897.2 577.7,897.4 578.8,896.5 579.8,895.8 580.9,895.8 581.9,895.8 583.0,895.9 584.0,896.1 585.1,896.7 586.2,898.2 587.2,898.3 588.3,898.7 589.3,898.0 590.4,897.3 591.4,897.9 592.5,897.7 592.9,898.3 593.3,899.1 593.7,900.4 594.0,901.1 594.4,902.5 594.8,904.1 595.2,905.0 595.6,905.4 596.2,903.8 596.9,902.7 597.5,902.5 598.2,902.5 598.8,901.3 599.9,901.0 600.9,901.4 602.0,902.3 602.7,901.6 603.4,900.4 604.1,899.7 604.8,899.5 605.5,897.8 606.2,896.5 607.1,897.3 608.0,897.1 608.9,897.3 609.9,898.4 610.8,899.6 611.7,899.6 612.6,899.4 613.6,898.7 614.7,897.9 615.7,896.5 616.6,897.5 617.6,898.5 618.5,898.8 619.4,899.6 620.3,899.7 621.2,899.4 622.2,899.8 623.1,900.4 624.0,901.0 624.9,901.8 625.8,902.3 626.6,902.9 627.5,904.0 628.4,905.0 629.5,906.1 630.5,907.5 631.6,908.5 632.4,907.3 633.2,906.1 634.0,905.1 635.4,904.3 635.5,905.2 635.6,906.1 635.7,906.9 635.8,908.0 635.9,909.0 636.0,907.7 636.1,906.8 636.1,907.1 636.2,906.4 636.3,904.7 636.4,903.1 636.5,904.1 636.6,905.7 636.7,907.0 636.8,908.1 636.9,908.4 637.0,907.8 637.1,907.2 637.2,905.1 637.3,904.0"/>
<polyline fill="none" stroke="#959595" stroke-width="3.85" stroke-linejoin="round" stroke-linecap="round" points="652.4,907.7 653.7,908.1 655.0,908.2 656.1,907.7 657.1,907.7 658.2,907.5 659.2,907.0 660.3,906.9 661.3,907.5 662.4,906.9 663.4,907.0 664.5,907.1 665.6,906.7 666.6,907.1 667.7,908.1 668.8,908.4 669.8,908.0 670.9,908.6 671.8,908.4 672.8,908.4 673.7,907.7 674.7,906.5 675.6,906.0 676.6,906.5 677.6,907.7 678.6,908.9 679.6,909.0 680.5,908.1 681.5,906.6 682.4,906.3 683.3,906.8 684.1,906.4 685.0,906.9 685.9,908.7 686.7,910.4 687.5,909.9 688.3,909.1 689.1,908.9 689.9,908.0 690.7,906.2 691.7,905.9 692.7,906.8 693.7,908.3 694.7,909.2 695.5,907.4 696.3,906.7 697.0,906.0 697.8,904.7 698.6,904.7 699.4,904.1 700.5,903.5 701.5,903.2 702.6,903.6 703.2,903.1 703.7,902.1 704.3,900.8 704.9,900.1 705.5,899.9 706.0,898.3 706.6,897.4 707.7,897.4 708.7,896.9 709.8,897.5 710.6,896.4 711.4,895.2 712.2,895.8 712.9,895.8 713.7,894.2 714.5,892.4 715.3,892.6 716.1,892.4 716.9,891.2 717.7,889.7 718.5,888.9 719.3,888.1 720.1,887.2 720.6,887.5 721.2,887.0 721.7,885.7 722.7,884.9 723.8,884.1 724.8,883.6 725.9,885.0 726.9,885.6 728.0,884.9 729.2,884.5 730.4,885.1 731.0,885.9 731.7,886.3 732.3,886.7 733.0,887.1 733.6,887.9 734.6,888.5 735.7,889.8 736.7,891.3 737.3,893.1 737.8,893.9 738.4,893.5 739.0,893.6 739.6,894.3 740.1,895.6 740.7,896.7 741.5,897.3 742.3,897.9 743.1,899.4 743.9,900.4 744.7,900.7 745.5,901.4 746.3,902.8 747.2,902.8 748.1,902.6 749.0,904.3 749.9,904.5 750.8,904.9 751.7,905.4 752.6,906.0 753.7,906.1 754.7,906.5 755.8,906.0 756.9,905.7 757.9,906.3 759.0,905.9 760.3,906.7 761.6,906.8 762.9,906.6 763.4,906.2 763.9,905.1 764.3,903.8 764.8,903.9 765.3,902.7 765.7,903.7 766.1,904.5 766.5,905.0 766.9,906.5 767.9,905.9 768.9,906.3 769.9,906.4 770.9,906.8 771.7,907.2 772.5,905.6 773.2,904.1 774.0,903.5 774.8,903.7 775.6,904.2 776.4,905.6 777.2,906.7 778.3,907.6 779.3,907.6 780.4,907.1 781.4,907.2 782.3,907.4 783.3,906.5 784.2,905.9 785.2,905.3 786.4,905.8 787.5,905.8 788.0,904.2 788.5,904.6 788.9,904.2 789.4,902.4 789.9,902.0 790.4,904.3 790.9,905.5 791.3,905.8 791.8,906.3 792.3,907.9 793.5,908.2 794.7,907.2 795.2,905.3 795.8,904.3 796.3,903.7 796.9,902.7 797.4,901.3 797.7,900.0 798.1,898.6 798.4,897.7 798.8,897.5 799.1,896.0 799.5,894.5 799.8,894.4 800.1,893.3 800.5,892.1 800.8,891.1 801.2,889.7 801.5,888.8 801.9,888.1 802.2,887.0 802.6,885.9 802.9,885.0 803.3,884.0 803.6,882.7 804.0,881.8 804.3,881.1 804.7,880.1 805.0,879.1 805.4,878.3 805.7,877.1 806.1,875.9 806.9,876.6 807.7,877.4 808.5,877.9 809.3,878.6 810.1,879.3 810.9,879.9 812.1,879.6 813.2,879.1 814.4,878.8 815.6,878.3 816.2,877.4 816.9,876.6 817.5,875.3 818.2,874.6 818.8,873.7 819.6,873.0 820.4,872.4 821.2,871.7 822.0,871.3 822.8,870.7 824.0,870.1 825.1,869.8 826.3,869.4 827.5,869.1 827.9,868.1 828.3,867.0 828.7,866.1 829.1,865.2 829.5,864.2 829.9,863.2 830.4,862.4 830.9,861.3 831.3,860.3 831.8,859.6 832.3,858.6 832.7,859.4 833.1,860.5 833.5,861.6 833.9,862.2 834.3,862.8 834.7,863.6 835.1,864.8 835.5,866.3 835.9,867.2 836.3,868.0 836.7,869.3 837.1,870.5 838.1,870.8 839.2,871.2 840.2,870.7 840.6,869.6 841.0,869.0 841.4,868.0 841.8,866.9 842.2,865.6 842.6,864.7 843.1,863.9 843.7,863.2 844.2,862.5 844.7,861.5 845.3,860.3 845.8,859.2 846.1,858.3 846.3,857.1 846.6,856.0 846.9,854.8 847.1,853.8 847.4,852.8 847.7,851.8 847.9,850.9 848.2,849.8 848.3,848.6 848.3,847.7 848.4,846.9 848.5,845.8 848.6,844.8 848.6,843.5 848.7,842.3 848.8,841.8 848.9,840.7 848.9,839.4 849.0,838.4 849.1,837.8 849.1,836.8 849.2,835.5 849.3,834.4 849.4,833.9 849.4,833.0 849.5,832.0 849.6,830.8 849.7,829.7 849.7,828.7 849.8,827.6 849.9,826.4 850.0,825.4 850.0,824.7 850.1,823.7 850.2,822.3 850.3,821.4 850.4,820.5 850.4,819.5 850.5,818.5 850.6,817.7 850.7,816.8 850.7,815.7 850.8,814.5 850.9,813.4 851.0,812.6 851.1,811.4 851.1,810.3 851.2,809.4 851.3,808.5 852.1,808.0 852.9,807.2 853.7,806.7 854.5,806.4 855.1,805.2 855.7,804.2 856.3,803.3 856.9,802.1 857.7,802.7 858.5,803.2 858.6,804.5 858.7,806.0 858.8,807.1 858.9,808.1 859.0,809.3 859.1,810.0 859.2,810.9 859.3,812.4 859.3,813.3 859.4,814.3 859.5,815.4 859.6,816.0 859.7,816.8 859.8,818.0 859.9,819.4 860.0,820.5 860.1,821.4 860.3,822.5 860.4,823.4 860.6,824.1 860.8,825.2 861.0,826.5 861.1,827.9 861.3,828.8 861.5,829.4 861.6,830.3 861.8,831.0 862.0,832.1 862.2,833.6 862.3,834.8 862.5,835.6 862.9,836.5 863.3,837.4 863.6,838.6 864.0,839.6 864.4,840.4 865.1,839.5 865.8,838.8 866.5,838.1 867.2,837.3 867.4,836.1 867.6,834.9 867.8,834.0 868.0,833.2 868.2,832.2 868.4,831.1 868.6,830.0 868.8,829.2 869.3,828.3 869.9,827.2 870.4,826.2 870.7,827.1 870.9,828.2 871.2,829.2 871.5,830.1 871.7,831.3 872.0,832.3 872.2,833.3 872.4,834.6 872.6,836.0 872.8,837.0 873.0,837.9 873.2,838.7 873.4,840.1 873.6,841.1 874.1,841.6 874.7,842.9 875.2,844.1 875.8,844.8 876.3,845.8 876.8,844.7 877.4,843.7 877.9,842.8 878.0,841.7 878.0,840.8 878.1,839.8 878.2,838.3 878.2,837.4 878.3,836.7 878.4,835.8 878.4,834.7 878.5,833.6 878.6,832.6 878.6,831.5 878.7,830.7 878.8,829.5 878.8,828.3 878.9,827.4 879.0,826.6 879.0,825.6 879.1,824.5 879.2,823.5 879.3,822.5 879.4,821.2 879.4,820.2 879.5,819.5 879.6,818.4 879.7,816.9 879.8,815.9 879.9,815.0 880.0,813.7 880.1,812.8 880.1,812.0 880.2,811.1 880.3,809.8 880.4,808.7 880.8,807.5 881.3,806.2 881.7,805.4 882.0,806.6 882.3,807.4 882.5,808.5 882.8,809.7 883.1,810.4 883.2,811.2 883.3,812.4 883.3,813.1 883.4,814.2 883.5,815.7 883.6,816.6 883.7,817.5 883.7,818.4 883.8,819.6 883.9,820.6 884.0,821.5 884.1,822.6 884.1,823.8 884.2,825.0 884.3,825.9 884.4,826.7 884.5,827.6 884.5,828.5 884.6,829.7 884.7,830.9 884.8,831.9 884.9,832.7 885.0,833.5 885.1,834.3 885.2,835.4 885.3,836.4 885.4,837.2 885.5,838.4 885.6,839.8 885.8,840.7 885.9,841.7 886.0,843.1 886.1,844.1 886.2,844.9 886.3,845.7 886.4,846.5 886.5,847.5 886.6,848.6 886.7,849.9 886.9,851.1 887.1,852.1 887.3,852.9 887.5,853.9 887.7,854.9 887.9,856.2 888.1,857.3 888.3,858.3 888.5,859.3 888.7,860.3 889.5,861.0 890.2,861.6 891.0,862.4 891.4,863.5 891.8,864.6 892.2,865.4 892.5,866.2 892.9,867.2 893.3,868.2 893.7,869.1 894.2,868.1 894.8,867.1 895.3,865.8 895.4,864.5 895.5,863.7 895.6,862.7 895.7,861.8 895.8,861.0 895.9,859.7 896.0,858.4 896.0,857.5 896.1,856.6 896.2,855.3 896.3,854.1 896.4,853.3 896.5,852.5 896.6,851.2 896.8,850.1 897.1,849.4 897.3,848.7 897.5,847.7 897.7,846.4 898.0,845.3 898.2,844.3 898.4,845.4 898.7,846.4 898.9,847.4 899.1,848.7 899.3,849.6 899.6,850.4 899.8,851.7 899.9,852.6 900.1,853.3 900.2,854.4 900.4,855.6 900.5,856.9 900.7,857.8 900.8,858.7 901.0,859.7 901.1,860.7 901.3,862.0 901.4,863.0 901.6,864.1 901.7,865.4 902.7,866.2 903.7,867.2 905.0,867.2 906.4,866.7 906.7,867.2 907.0,868.1 907.3,869.5 907.6,870.5 907.9,871.6 908.2,872.7 908.5,873.6 908.7,874.7 909.0,875.6 909.2,876.7 909.5,877.7 909.7,878.6 909.9,879.8 910.2,880.9 910.4,881.9 910.7,883.1 910.9,884.5 911.4,885.0 911.9,885.5 912.3,886.5 912.8,887.7 913.3,888.8 914.1,888.1 914.8,887.3 915.6,886.4 915.9,885.1 916.3,884.0 916.6,883.1 917.0,882.1 917.3,881.4 917.7,880.5 918.0,879.3 918.6,878.5 919.3,877.3 919.9,876.0 920.6,875.1 921.2,874.4 921.4,873.3 921.7,872.4 921.9,871.3 922.1,870.0 922.3,869.1 922.6,868.4 922.8,867.4 923.3,868.5 923.9,869.5 924.4,870.6 924.5,871.8 924.7,873.0 924.8,874.0 924.9,874.7 925.1,875.7 925.2,876.6 925.3,877.8 925.5,879.1 925.6,879.9 925.7,881.1 925.9,882.2 926.0,883.2 926.1,884.5 926.3,885.7 926.4,886.6 926.6,887.8 926.9,888.7 927.1,889.5 927.3,890.7 927.5,892.0 927.8,892.6 928.0,893.3 928.2,894.5 928.5,895.5 928.7,896.8 929.4,896.1 930.0,895.1 930.7,894.4 930.8,893.5 931.0,892.4 931.1,891.4 931.2,890.2 931.3,889.2 931.5,888.2 931.6,887.2 931.7,886.5 931.8,885.6 932.0,884.4 932.1,883.5 932.2,882.7 932.3,881.6 932.5,880.3 932.6,879.4 932.7,878.5 932.8,877.1 933.0,876.2 933.1,875.2 933.2,874.0 933.4,873.0 933.5,871.9 933.7,871.1 933.8,869.9 934.0,868.8 934.1,868.3 934.3,867.3 934.4,866.1 934.6,864.9 934.7,863.8 934.9,863.1 935.0,862.3"/>
<polyline fill="none" stroke="#000" stroke-width="4.6" stroke-linejoin="round" stroke-linecap="round" points="104.0,1099.4 105.0,1100.2 106.1,1099.9 107.2,1099.5 108.2,1098.2 109.3,1098.1 110.3,1099.7 111.4,1099.1 112.4,1097.8 113.5,1097.5 114.5,1097.6 115.6,1098.5 116.6,1097.5 117.7,1097.5 118.7,1097.8 119.8,1098.8 120.9,1099.1 121.9,1098.0 123.0,1097.1 124.1,1097.4 125.1,1098.4 126.2,1097.5 127.2,1098.3 128.3,1098.4 129.4,1097.2 130.4,1098.1 131.5,1098.0 132.6,1097.7 133.7,1097.8 134.8,1096.9 135.8,1098.4 136.9,1099.5 138.0,1099.4 139.0,1099.4 140.1,1098.6 141.1,1098.0 142.1,1097.4 143.2,1096.5 144.2,1096.7 145.2,1096.0 146.1,1096.0 147.1,1096.9 148.1,1097.3 149.0,1097.5 150.0,1098.5 151.2,1099.8 152.3,1098.9 153.5,1099.1 154.6,1098.5 155.8,1097.5 156.9,1099.1 157.9,1101.0 159.0,1100.8 160.0,1100.3 161.1,1100.5 162.2,1101.2 163.2,1100.8 164.3,1098.9 165.3,1098.9 166.4,1100.0 167.3,1100.4 168.3,1099.5 169.2,1099.5 170.2,1098.5 171.1,1097.6 172.1,1097.5 173.0,1096.7 174.0,1096.6 174.9,1097.1 175.8,1099.0 176.7,1097.6 177.6,1097.1 178.6,1099.2 179.5,1099.5 180.4,1099.8 181.3,1100.9 182.4,1101.3 183.4,1100.8 184.4,1100.7 185.5,1100.9 186.6,1100.3 187.6,1099.9 188.6,1099.7 189.7,1100.0 190.7,1101.3 191.6,1101.5 192.6,1100.0 193.6,1099.2 194.5,1098.2 195.5,1098.5 196.4,1097.9 197.4,1096.6 198.4,1097.5 199.3,1097.3 200.3,1095.9 201.1,1097.1 201.8,1096.2 202.6,1093.6 203.3,1092.5 204.1,1092.0 204.8,1092.7 205.6,1093.3 206.7,1093.1 207.7,1091.4 208.8,1090.2 209.8,1090.2 210.9,1089.7 211.5,1088.5 212.1,1086.8 212.7,1085.9 213.3,1085.0 213.8,1083.6 214.4,1082.4 215.0,1081.0 215.6,1082.0 216.2,1082.1 216.8,1079.7 217.4,1079.3 218.0,1077.8 218.7,1076.1 219.3,1075.7 219.9,1075.2 220.5,1075.5 221.2,1074.3 221.9,1072.8 222.6,1071.9 223.3,1072.0 224.0,1071.8 224.7,1071.7 225.2,1070.8 225.6,1068.8 226.1,1067.1 226.6,1065.4 227.0,1065.5 227.5,1065.0 228.0,1064.3 228.4,1063.9 228.9,1062.0 229.3,1060.4 229.6,1060.4 230.0,1060.2 230.3,1059.2 230.7,1057.1 231.1,1055.7 231.4,1054.8 231.8,1055.1 232.1,1054.4 232.5,1052.1 232.8,1051.1 233.2,1049.6 233.4,1049.1 233.7,1048.2 233.9,1046.9 234.2,1046.5 234.4,1045.4 234.7,1043.8 234.9,1043.1 235.2,1042.3 235.4,1040.1 235.7,1037.6 235.9,1036.5 236.0,1036.9 236.1,1036.8 236.1,1035.7 236.2,1034.5 236.3,1033.4 236.4,1032.5 236.5,1032.0 236.5,1030.7 236.6,1029.4 236.7,1028.9 236.8,1027.8 236.8,1026.3 236.9,1025.4 237.0,1024.6 237.1,1023.5 237.2,1022.5 237.2,1021.7 237.3,1020.5 237.4,1019.5 237.5,1018.6 237.5,1017.5 237.6,1016.8 237.6,1015.7 237.7,1014.4 237.8,1013.1 237.8,1011.9 237.9,1011.2 237.9,1010.2 238.0,1009.0 238.1,1008.2 238.1,1007.4 238.2,1006.4 238.2,1005.4 238.3,1004.5 238.4,1003.6 238.4,1002.5 238.5,1001.1 238.5,999.9 238.6,999.2 238.7,998.3 238.7,997.2 238.8,996.2 238.8,994.8 238.9,994.1 239.0,993.5 239.0,992.2 239.1,991.1 239.1,989.8 239.2,988.8 239.2,988.1 239.3,986.9 239.3,985.9 239.4,984.9 239.4,983.9 239.5,982.7 239.5,981.7 239.6,980.8 239.6,980.0 239.7,979.0 239.7,977.7 239.8,976.6 239.8,975.6 239.9,975.0 239.9,973.8 240.0,972.5 240.0,971.5 240.1,970.5 240.1,969.6 240.2,968.5 240.3,967.4 240.4,966.5 240.5,965.8 240.7,964.7 240.8,963.6 240.9,962.5 241.0,960.8 241.1,959.4 241.2,959.0 241.4,958.0 241.5,956.7 241.6,955.3 241.7,954.4 241.9,956.1 242.2,957.1 242.4,958.1 242.6,959.2 242.9,960.2 243.1,961.4 243.3,962.2 243.6,963.0 243.8,964.1 243.9,965.4 244.1,966.3 244.2,967.3 244.3,968.5 244.5,969.9 244.6,970.8 244.8,971.7 244.9,973.0 245.0,974.2 245.2,975.4 245.3,976.0 245.8,977.1 246.4,978.4 246.9,979.2 247.2,977.8 247.4,976.9 247.7,976.3 248.0,975.0 248.3,973.9 248.6,973.0 248.8,971.5 249.1,970.2 249.2,969.6 249.3,968.5 249.3,967.9 249.4,966.8 249.5,965.5 249.6,964.4 249.6,963.5 249.7,962.7 249.8,961.8 249.9,961.1 250.0,959.4 250.0,957.8 250.1,957.0 250.2,956.4 250.3,955.3 250.3,954.4 250.4,953.5 250.5,952.1 250.6,951.1 250.7,950.1 250.7,948.9 250.8,948.0 250.9,947.2 251.0,946.3 251.0,945.1 251.1,943.6 251.2,943.0 251.3,942.2 251.3,941.1 251.4,940.0 251.4,938.8 251.5,937.6 251.6,936.9 251.6,936.1 251.7,935.0 251.7,934.1 251.8,933.4 251.8,932.2 251.9,931.0 252.0,930.2 252.0,929.1 252.1,927.8 252.1,926.6 252.2,925.8 252.3,925.1 252.3,923.9 252.4,922.7 252.4,921.8 252.5,920.6 252.5,919.6 252.6,919.0 252.7,917.9 252.7,916.5 252.8,915.3 252.8,914.6 252.9,913.7 253.1,912.7 253.4,911.6 253.6,910.3 253.9,910.0 254.1,909.1 254.4,907.7 254.6,907.1 254.9,908.0 255.1,908.8 255.4,909.8 255.7,911.1 256.0,912.0 256.2,912.7 256.5,914.0 256.7,914.7 256.9,915.2 257.0,916.4 257.2,917.6 257.4,918.7 257.6,919.9 257.8,920.7 257.9,921.7 258.1,922.6 258.3,924.0 258.5,925.2 258.7,925.7 258.8,926.9 259.0,928.0 259.2,928.7 259.9,929.3 260.5,929.7 261.1,931.0 261.8,931.9 262.5,930.6 263.2,929.6 263.9,929.1 264.6,928.2 265.3,927.0 266.0,925.8 266.4,924.8 266.8,924.3 267.2,923.4 267.6,922.3 268.0,921.8 268.3,921.1 268.7,919.6 269.1,918.7 269.5,917.6 269.9,916.7 270.3,916.2 270.5,915.0 270.8,914.0 271.0,912.9 271.3,911.4 271.5,910.5 271.8,909.7 272.0,908.9 272.3,907.9 272.5,906.6 272.8,905.5 273.0,904.7 273.3,903.8 273.5,902.6 273.8,901.4 274.0,900.6 274.3,899.5 274.5,898.8 274.7,897.9 274.9,896.6 275.1,895.4 275.4,894.8 275.6,893.9 275.8,892.5 276.0,891.8 276.2,891.1 276.4,889.7 276.6,888.6 276.8,888.2 277.1,887.6 277.3,886.5 277.5,885.2 277.7,883.8 278.0,882.9 278.2,882.0 278.5,880.8 278.7,880.1 279.0,879.0 279.2,877.9 279.5,877.3 279.8,876.6 280.0,875.0 280.3,873.7 280.5,872.8 280.8,872.0 281.6,871.3 282.4,870.5 283.1,870.0 283.9,869.4 284.7,868.7 285.6,869.1 286.5,869.5 287.5,869.8 288.4,870.4 289.3,871.0 290.1,871.4 290.9,871.9 291.7,872.7 292.5,873.8 293.3,874.6 294.1,874.9 294.9,875.5 295.7,876.2 296.2,877.1 296.8,878.3 297.3,879.2 297.9,879.9 298.4,880.6 299.0,881.4 299.6,882.4 300.1,883.0 300.6,883.7 301.2,884.5 301.6,885.8 302.0,886.9 302.5,887.9 302.9,888.8 303.3,889.9 303.7,891.3 304.2,892.0 304.6,892.8 305.0,893.7 305.4,894.6 305.9,895.8 306.3,897.0 306.7,897.9 307.1,898.7 307.5,899.4 307.9,900.1 308.3,900.8 308.7,902.0 309.1,903.1 309.5,904.1 309.9,905.1 310.2,905.9 310.6,906.9 311.0,907.5 311.4,908.4 311.8,909.7 312.2,910.6 312.6,911.6 313.0,912.1 313.5,913.1 314.1,914.4 314.6,915.2 315.1,916.0 315.6,916.8 316.2,917.8 316.7,918.5 317.2,919.2 317.8,920.2 318.3,920.8 319.1,921.5 319.9,922.3 320.7,922.8 321.5,923.5 322.6,923.4 323.6,923.2 324.6,923.2 325.7,923.2 326.8,923.4 327.8,924.3 328.9,924.9 329.9,924.9 331.0,925.5 331.5,926.9 331.9,928.1 332.4,929.1 332.8,929.8 333.3,931.1 333.7,932.0 334.2,932.3 334.5,933.6 334.8,935.1 335.1,935.9 335.4,937.0 335.7,938.0 335.9,938.5 336.2,939.4 336.5,940.2 336.8,941.2 337.1,942.2 337.4,942.9 337.6,943.8 337.8,944.9 338.0,946.3 338.3,947.2 338.5,947.8 338.7,948.7 338.9,949.9 339.1,951.0 339.3,952.0 339.5,952.8 339.7,954.2 340.0,955.4 340.2,956.2 340.4,957.2 340.6,957.9 340.8,959.1 341.0,960.2 341.2,960.9 341.4,961.9 341.6,962.7 341.8,963.8 342.0,964.8 342.3,965.8 342.5,967.0 342.7,968.3 342.9,969.0 343.1,969.9 343.3,971.5 343.5,972.1 343.7,972.8 344.0,974.1 344.2,974.9 344.5,976.0 344.8,976.9 345.0,977.7 345.3,979.0 345.6,979.7 345.9,980.6 346.1,981.7 346.4,982.7 346.7,983.7 346.9,984.7 347.2,985.9 347.5,987.0 347.7,987.9 348.0,988.9 348.3,989.9 348.6,991.0 348.8,992.0 349.1,992.8 349.4,993.7 349.7,994.4 350.0,995.3 350.2,996.5 350.5,997.4 350.8,998.6 351.1,999.7 351.4,1000.5 351.6,1001.5 351.9,1002.5 352.2,1003.8 352.6,1004.9 353.0,1005.6 353.3,1006.5 353.7,1007.6 354.1,1008.7 354.5,1009.5 354.9,1010.1 355.2,1011.3 355.6,1012.7 356.0,1013.7 356.4,1014.6 356.7,1015.7 357.1,1016.6 357.5,1017.5 357.9,1018.3 358.3,1019.3 358.7,1020.3 359.1,1021.2 359.5,1022.1 359.9,1022.9 360.4,1023.6 360.8,1024.8 361.2,1025.9 361.6,1026.8 362.0,1028.2 362.4,1029.3 362.8,1030.0 363.3,1031.2 363.9,1032.0 364.4,1032.9 364.9,1033.9 365.5,1034.6 366.0,1035.8 366.5,1037.1 367.0,1038.3 367.6,1039.3 368.1,1039.6 368.8,1040.5 369.4,1041.2 370.1,1041.9 370.8,1042.6 371.4,1043.7 372.1,1045.0 372.7,1046.0 373.4,1047.1 373.8,1045.7 374.2,1044.6 374.6,1043.8 375.0,1042.6 375.4,1041.3 375.8,1040.5 376.2,1039.2 376.6,1037.9 377.6,1037.9 378.7,1037.8 379.7,1037.4 380.0,1036.8 380.3,1036.0 380.7,1034.9 381.0,1033.9 381.3,1032.8 381.6,1031.7 381.9,1030.5 382.3,1029.6 382.6,1028.9 382.9,1028.0 383.8,1027.3 384.6,1026.4 385.5,1025.9 386.3,1025.2 387.2,1024.4 387.3,1023.6 387.4,1022.7 387.6,1021.7 387.7,1020.8 387.8,1019.9 387.9,1019.3 388.1,1018.2 388.2,1016.6 388.3,1015.8 388.4,1015.0 388.6,1013.8 388.7,1013.0 388.8,1011.8 388.9,1010.6 389.1,1009.8 389.2,1008.8 389.3,1007.9 390.4,1007.6 391.4,1007.3 392.5,1006.8 392.7,1005.6 392.9,1004.9 393.1,1004.0 393.3,1002.8 393.5,1001.6 393.7,1000.7 393.9,999.7 394.2,999.0 394.4,998.7 394.6,997.5 394.8,995.9 395.0,995.0 395.2,993.9 395.4,992.8 395.6,992.1 395.7,991.1 395.8,990.0 395.9,988.9 396.0,988.1 396.1,987.0 396.1,986.1 396.2,985.0 396.3,983.8 396.4,983.1 396.5,982.0 396.6,980.7 396.7,979.6 397.5,978.6 398.4,978.1 399.2,977.4 399.4,976.0 399.6,974.8 399.8,974.0 400.0,973.3 400.3,972.4 400.5,971.3 400.7,970.0 400.9,969.3 401.1,970.4 401.3,971.0 401.5,972.1 401.8,973.3 402.0,974.4 402.2,975.3 402.4,976.2 402.6,977.0 402.7,978.1 402.9,979.4 403.0,980.5 403.1,981.6 403.2,982.7 403.4,983.3 403.5,984.2 403.6,985.7 403.7,986.9 403.9,987.8 404.0,988.4 404.1,989.3 404.8,990.2 405.5,991.1 406.2,992.1 406.3,993.6 406.5,994.5 406.6,995.2 406.7,996.3 406.9,997.2 407.0,998.6 407.1,999.6 407.2,1000.6 407.4,1001.8 407.5,1002.4 407.6,1003.4 407.8,1004.6 407.9,1005.5 408.0,1006.4 408.2,1007.8 408.3,1009.0 408.5,1009.4 408.7,1010.5 408.9,1012.0 409.2,1012.9 409.4,1014.3 409.6,1014.9 409.8,1015.4 410.0,1016.9 410.2,1017.5 410.5,1018.4 410.7,1019.7 410.9,1020.3 411.1,1021.6 411.5,1022.9 412.0,1023.4 412.4,1024.3 412.8,1025.2 413.2,1026.6 413.7,1027.6 414.1,1028.1 414.5,1029.3 414.9,1030.5 415.4,1031.5 415.8,1032.3 416.4,1033.3 417.0,1034.1 417.6,1035.1 418.2,1036.3 418.8,1037.5 419.4,1037.7 420.0,1038.2 420.6,1039.6 421.3,1040.5 421.9,1041.4 422.6,1042.2 423.2,1043.0 423.8,1043.6 424.5,1044.1 425.1,1044.8 425.8,1046.0 426.4,1047.2 427.1,1048.2 427.7,1049.0 428.4,1049.7 429.0,1050.4 429.7,1051.4 430.4,1052.4 431.0,1053.1 431.7,1054.2 432.6,1054.5 433.5,1054.8 434.4,1055.6 435.2,1056.2 436.1,1056.8 437.0,1057.4 438.0,1056.7 439.1,1056.3 440.1,1056.0 441.2,1055.7 442.2,1055.3 443.1,1055.8 444.1,1056.6 445.0,1057.3 445.9,1057.4 446.9,1057.4 447.8,1058.1 448.8,1058.7 449.7,1058.9 450.6,1059.3 451.5,1060.1 452.4,1061.0 453.2,1061.7 454.1,1062.2 455.0,1063.0 455.9,1063.8 456.8,1064.2 457.6,1064.5 458.5,1065.1 459.4,1065.7 460.3,1066.4 461.2,1066.8 462.1,1067.0 463.0,1067.7 463.9,1068.4 464.8,1068.9 465.7,1069.1 466.5,1069.7 467.4,1070.9 468.3,1071.4 469.2,1071.8 470.1,1072.6 471.0,1073.1 471.9,1073.5 473.0,1073.6 474.0,1074.1 475.1,1074.3 476.1,1074.2 477.2,1074.3 478.2,1074.4 479.3,1074.9 480.2,1076.1 481.2,1076.0 482.1,1075.9 483.1,1076.8 484.0,1077.6 485.0,1077.6 485.9,1077.1 486.9,1076.2 487.8,1076.3 488.9,1077.4 490.0,1078.3 491.1,1078.4 492.3,1078.2 493.4,1078.9 494.5,1079.4 495.6,1078.8 496.7,1078.6 497.7,1079.4 498.8,1079.8 499.8,1079.9 500.9,1080.4 502.0,1080.5 503.0,1080.5 504.1,1080.8 505.1,1080.5 506.2,1080.7 507.2,1081.2 508.3,1080.9 509.3,1081.4 510.2,1081.9 511.2,1082.3 512.2,1082.6 513.1,1083.9 514.1,1083.8 515.0,1083.4 516.0,1084.1 517.0,1083.9 517.9,1084.6 518.9,1086.2 519.9,1086.0 520.9,1086.2 521.9,1086.0 523.0,1085.6 524.0,1086.0 525.0,1085.6 526.0,1085.8 527.0,1086.2 528.1,1086.9 529.2,1088.1 530.3,1088.5 531.4,1088.6 532.5,1088.4 533.6,1087.6 534.7,1088.5 535.8,1089.5 536.6,1089.4 537.3,1089.5 538.1,1091.0 538.8,1091.8 539.6,1091.9 540.3,1092.9 541.1,1093.5 541.9,1093.5 542.7,1093.6 543.5,1091.3 544.3,1090.8 544.9,1092.7 545.5,1093.6 546.2,1094.0 546.8,1093.7 547.4,1094.1 548.2,1094.7 548.9,1094.2 549.7,1092.3 550.4,1091.4 551.2,1090.3 551.9,1089.6 552.7,1089.6 553.8,1089.7 554.8,1090.5 555.9,1090.6 556.9,1090.5 558.0,1091.3 559.0,1091.7 560.1,1091.8 561.2,1090.5 562.2,1090.0 563.3,1091.1 564.3,1091.4 565.4,1092.0 566.5,1091.7 567.6,1091.5 568.7,1092.1 569.7,1092.0 570.8,1092.5 571.9,1091.5 573.0,1090.9 574.0,1092.0 575.1,1092.4 576.1,1091.8 577.1,1091.7 578.1,1092.3 579.2,1092.5 580.2,1092.9 581.4,1093.6 582.5,1093.4 583.7,1092.0 584.8,1091.2 586.0,1091.8 587.2,1092.8 588.4,1092.3 589.5,1091.7 590.7,1091.2 591.9,1092.0 592.4,1093.9 592.8,1094.0 593.3,1095.3 593.7,1096.6 594.2,1097.7 594.6,1098.1 595.1,1098.5 595.7,1097.5 596.3,1096.4 597.0,1095.7 597.6,1094.1 598.2,1092.9 599.3,1093.5 600.3,1093.3 601.4,1092.7 602.4,1091.8 603.5,1091.6 604.5,1091.3 605.6,1090.6 606.7,1092.0 607.8,1093.5 608.8,1093.8 609.9,1092.8 611.0,1092.8 612.0,1093.4 613.1,1093.9 614.1,1093.8 615.2,1094.1 616.2,1094.6 617.1,1094.3 618.1,1094.4 619.0,1095.3 620.0,1095.0 620.9,1094.8 621.9,1095.8 622.8,1096.4 623.8,1097.0 624.7,1097.7 625.8,1096.7 626.8,1096.5 627.9,1096.3 628.9,1095.7 629.7,1097.7 630.6,1097.9 631.4,1096.8 632.3,1098.2 633.1,1099.4 633.6,1097.6 634.1,1097.3 634.6,1096.3 634.7,1095.9 634.8,1097.6 635.0,1099.5 635.1,1099.6 635.2,1100.9 635.3,1100.4 635.4,1098.9 635.6,1098.2 635.7,1097.0 635.8,1095.8 635.9,1097.3 636.1,1098.7 636.2,1100.3 636.4,1100.8 636.6,1099.2 636.7,1099.1 636.9,1098.6"/>
<polyline fill="none" stroke="#000" stroke-width="4.6" stroke-linejoin="round" stroke-linecap="round" points="652.4,1098.9 653.7,1099.3 655.0,1099.3 656.1,1098.6 657.3,1099.2 658.4,1099.9 659.5,1099.6 660.6,1099.0 661.8,1098.8 662.9,1099.5 664.0,1100.0 665.0,1100.1 666.1,1100.3 667.2,1101.3 668.2,1100.4 669.3,1099.6 670.2,1099.3 671.1,1099.3 672.0,1099.2 673.0,1098.4 673.9,1097.6 674.8,1097.5 675.8,1098.3 676.7,1098.3 677.7,1098.5 678.6,1099.4 679.6,1100.0 680.5,1098.7 681.5,1098.0 682.4,1098.1 683.3,1097.0 684.0,1097.1 684.7,1098.0 685.3,1098.5 686.0,1099.1 686.7,1100.4 687.6,1099.4 688.5,1098.0 689.3,1097.2 690.2,1096.5 691.1,1097.5 692.0,1098.3 693.0,1097.8 693.9,1097.9 694.6,1097.6 695.3,1097.0 696.0,1096.7 696.6,1095.4 697.3,1093.9 698.0,1092.4 698.7,1091.9 700.0,1093.2 701.3,1093.2 702.6,1092.8 703.1,1091.8 703.6,1091.2 704.1,1090.0 704.6,1089.1 705.1,1087.8 705.6,1086.6 706.1,1085.2 707.3,1085.9 708.6,1088.1 709.8,1087.5 710.6,1086.1 711.4,1086.1 712.1,1085.0 712.9,1084.6 713.7,1083.5 714.5,1082.5 715.5,1082.1 716.4,1081.2 717.4,1080.0 718.3,1079.3 719.3,1079.5 719.8,1078.7 720.4,1076.8 720.9,1076.3 721.9,1077.4 723.0,1077.2 724.0,1077.5 725.2,1077.4 726.4,1077.8 727.6,1078.5 728.8,1078.3 729.6,1078.8 730.4,1080.0 731.2,1081.7 732.0,1081.8 732.8,1080.3 733.6,1081.4 734.4,1083.0 735.2,1083.4 735.9,1084.3 736.7,1085.4 737.5,1086.4 738.2,1086.6 738.8,1087.2 739.5,1088.1 740.2,1088.9 740.8,1089.9 741.5,1091.2 742.3,1091.3 743.1,1092.1 743.9,1092.8 744.7,1093.1 745.5,1095.2 746.3,1095.6 747.1,1095.7 748.0,1096.3 748.9,1096.0 749.8,1096.9 750.7,1097.0 751.6,1097.1 752.5,1098.1 753.4,1098.7 754.5,1099.4 755.5,1099.4 756.6,1099.3 757.7,1099.7 758.7,1099.4 759.8,1099.6 761.0,1100.5 762.2,1099.8 763.4,1099.3 763.8,1098.8 764.2,1098.3 764.5,1097.2 764.9,1095.6 765.3,1094.4 765.8,1095.2 766.3,1095.6 766.9,1097.7 767.4,1100.0 768.6,1100.0 769.7,1099.5 770.9,1099.7 771.6,1099.7 772.3,1098.4 773.0,1097.2 773.7,1095.9 774.6,1096.6 775.5,1098.7 776.3,1099.8 777.2,1100.4 778.3,1100.0 779.3,1099.2 780.4,1098.3 781.4,1097.5 782.4,1097.2 783.4,1096.7 784.4,1096.4 785.4,1096.1 786.5,1096.2 787.5,1096.2 787.9,1094.8 788.3,1094.2 788.8,1093.5 789.2,1092.4 789.6,1090.8 790.0,1092.0 790.5,1092.7 790.9,1094.1 791.4,1095.1 791.8,1095.6 792.8,1095.4 793.7,1094.6 794.7,1093.3 795.2,1092.7 795.8,1092.1 796.3,1090.7 796.9,1090.1 797.4,1089.1 797.7,1088.0 797.9,1087.6 798.2,1086.0 798.5,1084.3 798.7,1083.5 799.0,1081.7 799.3,1079.8 799.5,1080.1 799.8,1079.3 800.0,1078.0 800.3,1077.3 800.5,1076.1 800.8,1075.1 801.0,1074.1 801.2,1072.9 801.5,1072.1 801.7,1070.9 801.9,1070.1 802.2,1069.2 802.4,1067.9 802.7,1067.2 802.9,1066.2 803.2,1065.1 803.5,1064.2 803.8,1063.0 804.1,1062.0 804.3,1060.9 804.6,1060.0 804.9,1059.1 805.2,1058.0 805.5,1057.0 805.8,1056.1 806.8,1056.6 807.7,1057.1 808.2,1057.8 808.8,1059.2 809.3,1060.2 809.8,1061.1 810.4,1062.2 810.9,1063.0 811.8,1062.4 812.8,1061.9 813.7,1061.7 814.7,1061.3 815.6,1060.8 816.2,1059.9 816.9,1058.8 817.5,1057.8 818.2,1056.7 818.8,1055.9 819.8,1055.9 820.7,1055.6 821.7,1055.0 822.6,1054.5 823.6,1054.2 824.6,1053.8 825.5,1053.3 826.5,1052.5 827.5,1052.0 827.9,1051.1 828.3,1050.0 828.7,1049.0 829.1,1047.8 829.5,1046.8 829.9,1045.8 830.3,1044.5 830.7,1043.9 831.2,1042.9 831.6,1041.8 832.0,1040.9 832.4,1042.1 832.8,1043.4 833.2,1044.4 833.6,1045.4 834.0,1046.0 834.4,1047.4 834.7,1048.8 835.0,1049.5 835.2,1050.3 835.5,1051.2 835.8,1052.0 836.0,1052.9 836.3,1053.9 836.6,1055.0 837.5,1055.8 838.5,1056.6 839.4,1057.5 839.7,1056.5 840.0,1055.2 840.4,1054.0 840.7,1053.2 841.0,1051.9 841.3,1050.4 841.7,1049.5 842.0,1049.0 842.3,1048.0 842.8,1046.8 843.3,1046.2 843.8,1045.2 844.3,1043.7 844.8,1042.7 845.3,1042.0 845.8,1041.0 846.1,1039.9 846.3,1038.7 846.6,1037.9 846.9,1036.9 847.1,1035.5 847.4,1034.5 847.7,1033.7 847.9,1032.7 848.2,1031.8 848.3,1030.4 848.3,1029.2 848.4,1028.1 848.4,1027.1 848.5,1026.6 848.6,1025.6 848.6,1024.3 848.7,1023.1 848.7,1021.9 848.8,1021.1 848.9,1020.3 848.9,1019.2 849.0,1018.4 849.0,1017.1 849.1,1015.8 849.2,1014.8 849.2,1013.8 849.3,1013.0 849.3,1011.7 849.4,1010.6 849.5,1009.6 849.5,1008.7 849.6,1007.5 849.6,1006.6 849.7,1005.9 849.7,1004.7 849.8,1003.6 849.9,1002.8 849.9,1002.0 850.0,1000.9 850.0,999.7 850.1,998.4 850.1,997.1 850.2,996.4 850.3,995.5 850.3,994.2 850.4,993.3 850.4,992.7 850.5,991.8 850.5,990.3 850.6,989.1 850.9,988.1 851.2,987.0 851.5,985.9 851.8,984.6 852.3,985.6 852.9,986.4 853.5,987.1 854.0,987.8 855.1,987.7 856.1,987.4 857.2,986.8 857.6,988.0 858.0,989.1 858.4,990.2 858.8,991.0 858.9,992.1 859.0,993.3 859.0,994.3 859.1,995.6 859.2,996.6 859.3,997.3 859.4,998.3 859.5,999.4 859.5,1000.5 859.6,1001.4 859.7,1002.5 859.8,1003.8 859.9,1004.6 859.9,1005.5 860.0,1006.7 860.1,1007.7 860.2,1008.7 860.3,1009.8 860.4,1010.9 860.5,1011.6 860.6,1012.5 860.7,1013.6 860.8,1014.8 860.9,1015.9 861.0,1017.0 861.1,1017.8 861.2,1018.6 861.3,1019.8 861.4,1021.1 861.5,1022.1 861.6,1022.9 861.7,1024.1 861.8,1024.7 861.9,1025.4 862.0,1026.7 862.2,1027.8 862.4,1028.9 862.6,1030.0 862.8,1030.7 862.9,1031.5 863.1,1032.6 863.3,1033.3 863.5,1034.1 863.7,1035.6 864.2,1034.9 864.8,1033.8 865.3,1032.9 865.9,1032.2 866.4,1031.3 866.6,1030.4 866.8,1029.4 867.0,1027.9 867.2,1026.9 867.5,1026.4 867.7,1025.5 867.9,1024.3 868.1,1023.0 868.3,1022.1 868.9,1021.0 869.5,1019.6 870.1,1018.5 870.4,1019.4 870.6,1020.3 870.9,1021.2 871.2,1022.1 871.4,1023.6 871.7,1024.5 871.9,1025.1 872.1,1026.2 872.3,1027.4 872.5,1028.3 872.7,1029.1 872.8,1030.3 873.0,1031.3 873.2,1032.2 873.4,1033.5 873.6,1034.8 874.0,1035.9 874.5,1036.7 875.0,1037.3 875.4,1038.0 875.8,1039.0 876.3,1039.8 876.7,1038.9 877.1,1038.2 877.5,1037.3 877.9,1036.1 878.0,1035.0 878.0,1034.3 878.1,1033.4 878.1,1032.3 878.2,1031.7 878.2,1030.5 878.3,1029.2 878.3,1028.4 878.4,1027.2 878.4,1026.1 878.5,1025.1 878.6,1023.9 878.6,1023.2 878.7,1022.2 878.7,1020.7 878.8,1020.0 878.8,1019.3 878.9,1018.0 878.9,1016.9 879.0,1016.0 879.0,1015.0 879.1,1014.0 879.2,1013.1 879.2,1012.1 879.3,1010.9 879.4,1009.9 879.5,1008.8 879.5,1007.5 879.6,1006.6 879.7,1005.6 879.8,1004.4 879.8,1003.2 879.9,1002.1 880.0,1001.3 880.1,1000.1 880.1,998.9 880.2,998.3 880.6,997.3 880.9,995.8 881.3,994.6 881.7,995.8 882.0,996.8 882.4,997.7 882.7,998.7 883.1,999.9 883.2,1000.8 883.2,1001.7 883.3,1003.0 883.4,1004.1 883.4,1005.0 883.5,1006.0 883.6,1006.8 883.6,1007.9 883.7,1008.8 883.8,1009.7 883.8,1011.0 883.9,1011.9 883.9,1012.7 884.0,1014.0 884.1,1015.2 884.1,1016.4 884.2,1017.5 884.3,1018.4 884.3,1019.0 884.4,1020.1 884.5,1021.4 884.6,1022.4 884.6,1023.4 884.7,1024.3 884.8,1025.4 884.9,1026.7 885.0,1027.4 885.1,1028.4 885.1,1029.7 885.2,1030.7 885.3,1031.7 885.4,1032.8 885.5,1033.9 885.6,1034.8 885.6,1035.8 885.7,1036.8 885.8,1037.8 885.9,1038.8 886.0,1040.0 886.1,1041.2 886.1,1042.1 886.2,1042.9 886.3,1043.9 886.4,1045.2 886.5,1046.4 886.7,1047.2 886.8,1048.2 886.9,1049.4 887.0,1050.5 887.1,1051.6 887.2,1052.1 887.4,1052.8 887.5,1054.2 887.6,1055.5 887.7,1056.7 887.8,1057.7 887.9,1058.7 888.1,1059.5 888.2,1060.5 888.3,1061.7 889.2,1062.5 890.1,1063.1 891.0,1064.1 891.5,1065.1 891.9,1065.9 892.4,1066.7 892.8,1067.9 893.2,1069.4 893.7,1070.5 894.1,1069.3 894.5,1068.5 894.9,1067.4 895.3,1066.3 895.4,1065.2 895.5,1064.3 895.5,1063.4 895.6,1062.1 895.7,1061.0 895.8,1060.1 895.8,1059.2 895.9,1058.4 896.0,1057.2 896.1,1055.9 896.1,1054.8 896.2,1054.1 896.3,1053.3 896.4,1052.2 896.4,1051.0 896.5,1049.8 896.6,1048.9 896.8,1048.1 897.0,1047.2 897.1,1046.2 897.3,1044.8 897.5,1044.0 897.7,1042.6 897.8,1041.2 898.0,1040.6 898.2,1039.6 898.4,1040.4 898.6,1041.5 898.8,1042.7 899.0,1043.6 899.2,1044.6 899.4,1045.6 899.6,1046.1 899.8,1047.1 899.9,1048.1 900.0,1049.1 900.1,1050.2 900.2,1051.6 900.2,1052.6 900.3,1053.3 900.4,1054.3 900.5,1055.5 900.6,1056.4 900.7,1057.4 900.8,1058.9 900.9,1059.9 900.9,1060.6 901.0,1061.5 901.1,1062.8 901.2,1063.9 901.3,1064.8 902.1,1065.9 902.9,1066.6 903.7,1067.2 905.0,1066.7 906.4,1066.0 906.7,1066.8 906.9,1068.2 907.2,1069.6 907.5,1070.4 907.7,1071.5 908.0,1072.5 908.2,1073.2 908.5,1074.1 908.8,1075.3 909.0,1076.5 909.3,1077.5 909.6,1078.4 909.8,1079.4 910.1,1080.3 910.4,1081.4 910.6,1082.8 910.9,1084.0 911.4,1084.8 911.9,1086.0 912.4,1087.2 912.9,1088.0 913.3,1087.1 913.7,1086.0 914.1,1084.9 914.5,1084.3 914.9,1083.6 915.3,1082.6 915.5,1081.6 915.8,1080.4 916.0,1079.2 916.3,1078.2 916.5,1076.9 916.8,1075.7 917.0,1074.9 917.3,1074.0 917.5,1072.9 917.8,1072.3 918.0,1071.4 918.4,1070.1 918.8,1069.1 919.2,1068.2 919.6,1067.1 920.0,1065.9 920.4,1065.1 920.8,1064.3 921.2,1063.1 921.4,1061.9 921.6,1060.9 921.8,1060.0 922.0,1058.8 922.2,1058.0 922.3,1057.0 922.5,1056.0 922.7,1055.2 922.9,1054.0 923.1,1052.8 923.4,1054.0 923.7,1055.0 924.1,1056.2 924.4,1057.3 924.7,1058.2 924.8,1059.1 925.0,1060.2 925.1,1061.5 925.2,1062.6 925.3,1063.5 925.5,1064.3 925.6,1065.1 925.7,1066.1 925.8,1067.4 926.0,1068.5 926.1,1069.4 926.2,1070.6 926.3,1071.5 926.5,1072.1 926.6,1073.1 926.7,1074.3 927.0,1075.4 927.3,1076.6 927.6,1077.6 927.9,1078.3 928.2,1079.2 928.5,1080.0 928.8,1081.2 929.1,1082.4 929.8,1081.0 930.5,1079.9 931.2,1079.2 931.3,1078.3 931.4,1077.2 931.5,1075.8 931.6,1074.8 931.7,1073.9 931.8,1072.8 931.9,1071.7 932.0,1070.8 932.1,1069.6 932.2,1068.4 932.2,1067.5 932.3,1066.8 932.4,1065.8 932.5,1064.8 932.6,1063.5 932.7,1062.3 932.8,1061.5 932.9,1060.5 933.0,1059.6 933.1,1058.7 933.2,1057.5 933.4,1056.3 933.5,1054.9 933.7,1054.2 933.8,1053.4 934.0,1051.9 934.1,1051.1 934.3,1050.5 934.4,1049.3 934.6,1048.2 934.7,1047.1 934.9,1046.1 935.0,1045.2"/>
</g>
<rect x="104.1" y="645.9" width="832.2" height="528.4" fill="none" stroke="#000" stroke-width="7.3"/>
<g stroke="#000" stroke-width="2.4" stroke-linecap="butt">
<line x1="629.6" y1="1186.6" x2="644.8" y2="1163.8"/>
<line x1="644.2" y1="1186.6" x2="659.4" y2="1163.8"/>
</g>
<g stroke="#000" stroke-width="2.2">
<line x1="239.1" y1="1163.3" x2="239.1" y2="1172"/>
<line x1="371.8" y1="1163.3" x2="371.8" y2="1172"/>
<line x1="504.5" y1="1163.3" x2="504.5" y2="1172"/>
<line x1="675.2" y1="1163.3" x2="675.2" y2="1172"/>
<line x1="793.4" y1="1163.3" x2="793.4" y2="1172"/>
<line x1="911.2" y1="1163.3" x2="911.2" y2="1172"/>
</g>
<g font-size="23" text-anchor="middle">
<text transform="translate(106.2,1210.5) scale(1.1,1)">4000</text>
<text transform="translate(239.1,1210.5) scale(1.1,1)">3500</text>
<text transform="translate(371.8,1210.5) scale(1.1,1)">3000</text>
<text transform="translate(504.5,1210.5) scale(1.1,1)">2500</text>
<text transform="translate(675.2,1210.5) scale(1.1,1)">1750</text>
<text transform="translate(793.4,1210.5) scale(1.1,1)">1500</text>
<text transform="translate(911.2,1210.5) scale(1.1,1)">1250</text>
</g>
<g fill="#ababab" font-weight="bold" font-size="23">
<text transform="translate(204.8,756.4) scale(1.05,1)">3441</text>
<text transform="translate(178.6,807.4) scale(1.06,1)">3490</text>
</g>
<g stroke="#ababab" stroke-width="1.8">
<line x1="204.5" y1="762.3" x2="259.1" y2="762.3"/>
<line x1="178.4" y1="812.7" x2="233" y2="812.7"/>
</g>
<text x="887.8" y="775" font-size="35">i<tspan dx="1.5">)</tspan></text>
<text x="884.8" y="969" font-size="35">ii<tspan dx="1.5">)</tspan></text>
<text x="372.6" y="1265.2" font-size="35">Wavelength <tspan dx="1.8">(cm</tspan><tspan font-size="20" dy="-13" dx="0.6">-1</tspan><tspan dy="13" dx="1.2">)</tspan></text>
<text transform="translate(70.2,1116.8) rotate(-90) scale(1,1.04)" font-size="43.4">Transmittance (a.u.)</text>
<text x="-1.6" y="658.1" font-size="49">b<tspan dx="2.5">)</tspan></text>
</g>
</svg>
</body>
</html>
